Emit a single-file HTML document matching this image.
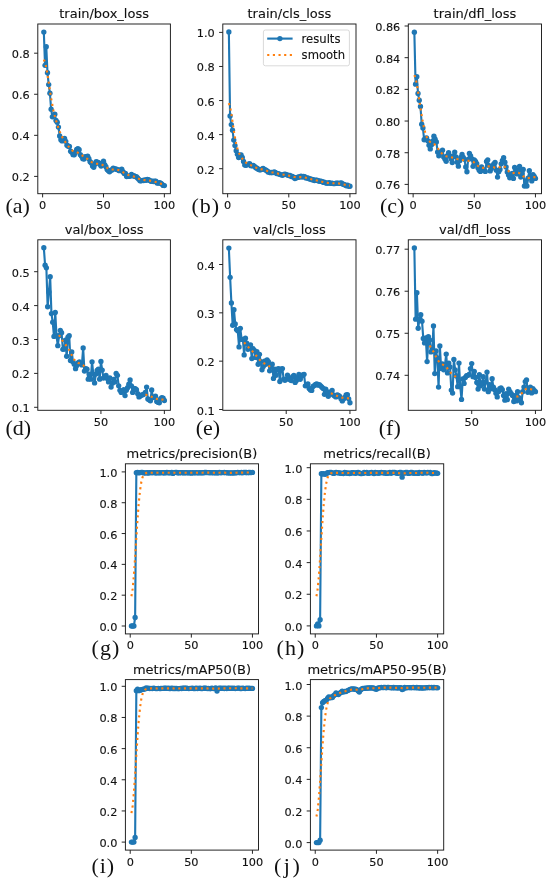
<!DOCTYPE html>
<html lang="en"><head><meta charset="utf-8"><title>Training results</title>
<style>html,body{margin:0;padding:0;background:#fff}body{width:550px;height:881px;overflow:hidden}svg{display:block}</style>
</head><body>
<svg width="550" height="881" viewBox="0 0 550 881">
<rect width="550" height="881" fill="#fff"/>
<g id="plot-a">
<clipPath id="clipa"><rect x="37.8" y="24" width="132.6" height="169.7"/></clipPath>
<g clip-path="url(#clipa)">
<polyline points="43.83,32.05 45.04,65.31 46.26,46.63 47.48,72.71 48.7,84.62 49.92,93.24 51.13,109.26 52.35,116.85 53.57,115.42 54.79,114.18 56,120.45 57.22,122.29 58.44,127.12 59.66,135.95 60.87,139.77 62.09,140.94 63.31,139.55 64.53,138.34 65.74,141.3 66.96,145.29 68.18,146.21 69.4,146.54 70.62,151.27 71.83,152.28 73.05,154.69 74.27,154.77 75.49,152.48 76.7,149.42 77.92,148.79 79.14,149.76 80.36,154.74 81.57,156.37 82.79,158.7 84.01,158.98 85.23,156.59 86.44,156.81 87.66,156.19 88.88,158.7 90.1,161.63 91.31,163 92.53,166.04 93.75,167.29 94.97,164.15 96.19,161.6 97.4,162.25 98.62,162.64 99.84,164.24 101.06,165.98 102.27,165.11 103.49,161.16 104.71,164.65 105.93,166.71 107.14,169.62 108.36,170.8 109.58,171.79 110.8,170.25 112.01,169.99 113.23,168.06 114.45,168.86 115.67,168.8 116.89,169.38 118.1,170.04 119.32,170.67 120.54,169.85 121.76,169.1 122.97,171.7 124.19,173.52 125.41,173.51 126.63,176.58 127.84,175.81 129.06,176.42 130.28,175.82 131.5,174.39 132.71,175.91 133.93,175.75 135.15,176.58 136.37,176.58 137.58,178 138.8,179.31 140.02,180.74 141.24,180.79 142.46,180.32 143.67,180.54 144.89,179.82 146.11,180.28 147.33,179.49 148.54,179.63 149.76,180.56 150.98,181.23 152.2,181.06 153.41,181.48 154.63,181.21 155.85,181.18 157.07,183.05 158.28,183.1 159.5,182.78 160.72,183.13 161.94,184.1 163.16,185.42 164.37,185.59" fill="none" stroke="#1f77b4" stroke-width="2.13" stroke-linejoin="round" stroke-linecap="square"/>
<g fill="#1f77b4"><circle cx="43.83" cy="32.05" r="2.67"/><circle cx="45.04" cy="65.31" r="2.67"/><circle cx="46.26" cy="46.63" r="2.67"/><circle cx="47.48" cy="72.71" r="2.67"/><circle cx="48.7" cy="84.62" r="2.67"/><circle cx="49.92" cy="93.24" r="2.67"/><circle cx="51.13" cy="109.26" r="2.67"/><circle cx="52.35" cy="116.85" r="2.67"/><circle cx="53.57" cy="115.42" r="2.67"/><circle cx="54.79" cy="114.18" r="2.67"/><circle cx="56" cy="120.45" r="2.67"/><circle cx="57.22" cy="122.29" r="2.67"/><circle cx="58.44" cy="127.12" r="2.67"/><circle cx="59.66" cy="135.95" r="2.67"/><circle cx="60.87" cy="139.77" r="2.67"/><circle cx="62.09" cy="140.94" r="2.67"/><circle cx="63.31" cy="139.55" r="2.67"/><circle cx="64.53" cy="138.34" r="2.67"/><circle cx="65.74" cy="141.3" r="2.67"/><circle cx="66.96" cy="145.29" r="2.67"/><circle cx="68.18" cy="146.21" r="2.67"/><circle cx="69.4" cy="146.54" r="2.67"/><circle cx="70.62" cy="151.27" r="2.67"/><circle cx="71.83" cy="152.28" r="2.67"/><circle cx="73.05" cy="154.69" r="2.67"/><circle cx="74.27" cy="154.77" r="2.67"/><circle cx="75.49" cy="152.48" r="2.67"/><circle cx="76.7" cy="149.42" r="2.67"/><circle cx="77.92" cy="148.79" r="2.67"/><circle cx="79.14" cy="149.76" r="2.67"/><circle cx="80.36" cy="154.74" r="2.67"/><circle cx="81.57" cy="156.37" r="2.67"/><circle cx="82.79" cy="158.7" r="2.67"/><circle cx="84.01" cy="158.98" r="2.67"/><circle cx="85.23" cy="156.59" r="2.67"/><circle cx="86.44" cy="156.81" r="2.67"/><circle cx="87.66" cy="156.19" r="2.67"/><circle cx="88.88" cy="158.7" r="2.67"/><circle cx="90.1" cy="161.63" r="2.67"/><circle cx="91.31" cy="163" r="2.67"/><circle cx="92.53" cy="166.04" r="2.67"/><circle cx="93.75" cy="167.29" r="2.67"/><circle cx="94.97" cy="164.15" r="2.67"/><circle cx="96.19" cy="161.6" r="2.67"/><circle cx="97.4" cy="162.25" r="2.67"/><circle cx="98.62" cy="162.64" r="2.67"/><circle cx="99.84" cy="164.24" r="2.67"/><circle cx="101.06" cy="165.98" r="2.67"/><circle cx="102.27" cy="165.11" r="2.67"/><circle cx="103.49" cy="161.16" r="2.67"/><circle cx="104.71" cy="164.65" r="2.67"/><circle cx="105.93" cy="166.71" r="2.67"/><circle cx="107.14" cy="169.62" r="2.67"/><circle cx="108.36" cy="170.8" r="2.67"/><circle cx="109.58" cy="171.79" r="2.67"/><circle cx="110.8" cy="170.25" r="2.67"/><circle cx="112.01" cy="169.99" r="2.67"/><circle cx="113.23" cy="168.06" r="2.67"/><circle cx="114.45" cy="168.86" r="2.67"/><circle cx="115.67" cy="168.8" r="2.67"/><circle cx="116.89" cy="169.38" r="2.67"/><circle cx="118.1" cy="170.04" r="2.67"/><circle cx="119.32" cy="170.67" r="2.67"/><circle cx="120.54" cy="169.85" r="2.67"/><circle cx="121.76" cy="169.1" r="2.67"/><circle cx="122.97" cy="171.7" r="2.67"/><circle cx="124.19" cy="173.52" r="2.67"/><circle cx="125.41" cy="173.51" r="2.67"/><circle cx="126.63" cy="176.58" r="2.67"/><circle cx="127.84" cy="175.81" r="2.67"/><circle cx="129.06" cy="176.42" r="2.67"/><circle cx="130.28" cy="175.82" r="2.67"/><circle cx="131.5" cy="174.39" r="2.67"/><circle cx="132.71" cy="175.91" r="2.67"/><circle cx="133.93" cy="175.75" r="2.67"/><circle cx="135.15" cy="176.58" r="2.67"/><circle cx="136.37" cy="176.58" r="2.67"/><circle cx="137.58" cy="178" r="2.67"/><circle cx="138.8" cy="179.31" r="2.67"/><circle cx="140.02" cy="180.74" r="2.67"/><circle cx="141.24" cy="180.79" r="2.67"/><circle cx="142.46" cy="180.32" r="2.67"/><circle cx="143.67" cy="180.54" r="2.67"/><circle cx="144.89" cy="179.82" r="2.67"/><circle cx="146.11" cy="180.28" r="2.67"/><circle cx="147.33" cy="179.49" r="2.67"/><circle cx="148.54" cy="179.63" r="2.67"/><circle cx="149.76" cy="180.56" r="2.67"/><circle cx="150.98" cy="181.23" r="2.67"/><circle cx="152.2" cy="181.06" r="2.67"/><circle cx="153.41" cy="181.48" r="2.67"/><circle cx="154.63" cy="181.21" r="2.67"/><circle cx="155.85" cy="181.18" r="2.67"/><circle cx="157.07" cy="183.05" r="2.67"/><circle cx="158.28" cy="183.1" r="2.67"/><circle cx="159.5" cy="182.78" r="2.67"/><circle cx="160.72" cy="183.13" r="2.67"/><circle cx="161.94" cy="184.1" r="2.67"/><circle cx="163.16" cy="185.42" r="2.67"/><circle cx="164.37" cy="185.59" r="2.67"/></g>
<polyline points="43.83,59.57 45.04,62.33 46.26,67.51 47.48,74.47 48.7,82.41 49.92,90.55 51.13,98.23 52.35,105.08 53.57,110.96 54.79,115.99 56,120.4 57.22,124.37 58.44,128.02 59.66,131.34 60.87,134.28 62.09,136.82 63.31,138.99 64.53,140.9 65.74,142.67 66.96,144.38 68.18,146.04 69.4,147.63 70.62,149.04 71.83,150.19 73.05,151.02 74.27,151.56 75.49,151.93 76.7,152.26 77.92,152.7 79.14,153.32 80.36,154.12 81.57,155.01 82.79,155.89 84.01,156.72 85.23,157.5 86.44,158.28 87.66,159.14 88.88,160.08 90.1,161.05 91.31,161.96 92.53,162.7 93.75,163.22 94.97,163.51 96.19,163.66 97.4,163.75 98.62,163.87 99.84,164.07 101.06,164.4 102.27,164.86 103.49,165.48 104.71,166.22 105.93,167.04 107.14,167.85 108.36,168.54 109.58,169.05 110.8,169.34 112.01,169.47 113.23,169.5 114.45,169.51 115.67,169.58 116.89,169.73 118.1,169.98 119.32,170.35 120.54,170.84 121.76,171.45 122.97,172.15 124.19,172.91 125.41,173.65 126.63,174.31 127.84,174.85 129.06,175.26 130.28,175.58 131.5,175.86 132.71,176.16 133.93,176.54 135.15,177.01 136.37,177.56 137.58,178.14 138.8,178.72 140.02,179.22 141.24,179.61 142.46,179.88 143.67,180.04 144.89,180.13 146.11,180.21 147.33,180.3 148.54,180.43 149.76,180.61 150.98,180.84 152.2,181.1 153.41,181.39 154.63,181.7 155.85,182.05 157.07,182.43 158.28,182.83 159.5,183.24 160.72,183.64 161.94,183.99 163.16,184.26 164.37,184.41" fill="none" stroke="#ff7f0e" stroke-width="2.13" stroke-dasharray="2.13 3.52" stroke-linejoin="round"/>
</g>
<rect x="37.8" y="24" width="132.6" height="169.7" fill="none" stroke="#1a1a1a" stroke-width="0.95"/>
<path d="M42.61 193.7v3.7M103.49 193.7v3.7M164.37 193.7v3.7M37.8 176.4h-3.7M37.8 135.33h-3.7M37.8 94.27h-3.7M37.8 53.2h-3.7" stroke="#1a1a1a" stroke-width="0.95" fill="none"/>
<g font-family="DejaVu Sans, Liberation Sans, sans-serif" font-size="11.3" fill="#111" stroke="#111" stroke-width="0.12">
<text x="42.61" y="209.1" text-anchor="middle">0</text>
<text x="103.49" y="209.1" text-anchor="middle">50</text>
<text x="164.37" y="209.1" text-anchor="middle">100</text>
<text x="29.8" y="181.4" text-anchor="end">0.2</text>
<text x="29.8" y="140.33" text-anchor="end">0.4</text>
<text x="29.8" y="99.27" text-anchor="end">0.6</text>
<text x="29.8" y="58.2" text-anchor="end">0.8</text>
</g>
<text x="104.1" y="18" text-anchor="middle" font-family="DejaVu Sans, Liberation Sans, sans-serif" font-size="13.0" fill="#111" stroke="#111" stroke-width="0.12">train/box_loss</text>
<text transform="translate(5.5 212.7) scale(1.005 1)" font-family="Liberation Serif, Times New Roman, serif" font-size="21.9" letter-spacing="0" fill="#111">(a)</text>
</g>
<g id="plot-b">
<clipPath id="clipb"><rect x="222.8" y="24" width="133.2" height="169.7"/></clipPath>
<g clip-path="url(#clipb)">
<polyline points="228.85,31.89 230.08,115.97 231.3,124.57 232.52,130.2 233.75,140.08 234.97,145.61 236.19,150.64 237.42,154.3 238.64,157.46 239.86,155.24 241.09,154.9 242.31,157.46 243.53,161.53 244.76,165.09 245.98,165.28 247.2,164.66 248.42,164.19 249.65,163.72 250.87,165.66 252.09,165.8 253.32,165.5 254.54,166.32 255.76,167.73 256.99,168.28 258.21,169.28 259.43,169.72 260.66,169.83 261.88,169.28 263.1,168.33 264.33,169.36 265.55,170.04 266.77,170.61 268,171.91 269.22,172.14 270.44,172.65 271.66,172.52 272.89,172.56 274.11,171.86 275.33,172.35 276.56,173.51 277.78,173.61 279,174 280.23,174.58 281.45,174.85 282.67,175.33 283.9,174.44 285.12,174.22 286.34,174.59 287.57,175.08 288.79,175.47 290.01,175.44 291.23,176.55 292.46,176.33 293.68,177.37 294.9,178.56 296.13,177.79 297.35,177.48 298.57,177.02 299.8,176.96 301.02,176.26 302.24,176.96 303.47,176.33 304.69,176.74 305.91,177.9 307.14,177.97 308.36,178.15 309.58,179 310.8,179.02 312.03,179.78 313.25,179.79 314.47,180.48 315.7,180.11 316.92,180.28 318.14,180.73 319.37,181.15 320.59,181.29 321.81,181.42 323.04,182.27 324.26,182.25 325.48,182.85 326.71,183.17 327.93,183.19 329.15,182.67 330.38,183.34 331.6,183.28 332.82,183.35 334.04,183.66 335.27,183.39 336.49,183.11 337.71,183.2 338.94,183.38 340.16,183.21 341.38,182.94 342.61,183.89 343.83,184.47 345.05,184.86 346.28,185.75 347.5,185.28 348.72,186.34 349.95,186.22" fill="none" stroke="#1f77b4" stroke-width="2.13" stroke-linejoin="round" stroke-linecap="square"/>
<g fill="#1f77b4"><circle cx="228.85" cy="31.89" r="2.67"/><circle cx="230.08" cy="115.97" r="2.67"/><circle cx="231.3" cy="124.57" r="2.67"/><circle cx="232.52" cy="130.2" r="2.67"/><circle cx="233.75" cy="140.08" r="2.67"/><circle cx="234.97" cy="145.61" r="2.67"/><circle cx="236.19" cy="150.64" r="2.67"/><circle cx="237.42" cy="154.3" r="2.67"/><circle cx="238.64" cy="157.46" r="2.67"/><circle cx="239.86" cy="155.24" r="2.67"/><circle cx="241.09" cy="154.9" r="2.67"/><circle cx="242.31" cy="157.46" r="2.67"/><circle cx="243.53" cy="161.53" r="2.67"/><circle cx="244.76" cy="165.09" r="2.67"/><circle cx="245.98" cy="165.28" r="2.67"/><circle cx="247.2" cy="164.66" r="2.67"/><circle cx="248.42" cy="164.19" r="2.67"/><circle cx="249.65" cy="163.72" r="2.67"/><circle cx="250.87" cy="165.66" r="2.67"/><circle cx="252.09" cy="165.8" r="2.67"/><circle cx="253.32" cy="165.5" r="2.67"/><circle cx="254.54" cy="166.32" r="2.67"/><circle cx="255.76" cy="167.73" r="2.67"/><circle cx="256.99" cy="168.28" r="2.67"/><circle cx="258.21" cy="169.28" r="2.67"/><circle cx="259.43" cy="169.72" r="2.67"/><circle cx="260.66" cy="169.83" r="2.67"/><circle cx="261.88" cy="169.28" r="2.67"/><circle cx="263.1" cy="168.33" r="2.67"/><circle cx="264.33" cy="169.36" r="2.67"/><circle cx="265.55" cy="170.04" r="2.67"/><circle cx="266.77" cy="170.61" r="2.67"/><circle cx="268" cy="171.91" r="2.67"/><circle cx="269.22" cy="172.14" r="2.67"/><circle cx="270.44" cy="172.65" r="2.67"/><circle cx="271.66" cy="172.52" r="2.67"/><circle cx="272.89" cy="172.56" r="2.67"/><circle cx="274.11" cy="171.86" r="2.67"/><circle cx="275.33" cy="172.35" r="2.67"/><circle cx="276.56" cy="173.51" r="2.67"/><circle cx="277.78" cy="173.61" r="2.67"/><circle cx="279" cy="174" r="2.67"/><circle cx="280.23" cy="174.58" r="2.67"/><circle cx="281.45" cy="174.85" r="2.67"/><circle cx="282.67" cy="175.33" r="2.67"/><circle cx="283.9" cy="174.44" r="2.67"/><circle cx="285.12" cy="174.22" r="2.67"/><circle cx="286.34" cy="174.59" r="2.67"/><circle cx="287.57" cy="175.08" r="2.67"/><circle cx="288.79" cy="175.47" r="2.67"/><circle cx="290.01" cy="175.44" r="2.67"/><circle cx="291.23" cy="176.55" r="2.67"/><circle cx="292.46" cy="176.33" r="2.67"/><circle cx="293.68" cy="177.37" r="2.67"/><circle cx="294.9" cy="178.56" r="2.67"/><circle cx="296.13" cy="177.79" r="2.67"/><circle cx="297.35" cy="177.48" r="2.67"/><circle cx="298.57" cy="177.02" r="2.67"/><circle cx="299.8" cy="176.96" r="2.67"/><circle cx="301.02" cy="176.26" r="2.67"/><circle cx="302.24" cy="176.96" r="2.67"/><circle cx="303.47" cy="176.33" r="2.67"/><circle cx="304.69" cy="176.74" r="2.67"/><circle cx="305.91" cy="177.9" r="2.67"/><circle cx="307.14" cy="177.97" r="2.67"/><circle cx="308.36" cy="178.15" r="2.67"/><circle cx="309.58" cy="179" r="2.67"/><circle cx="310.8" cy="179.02" r="2.67"/><circle cx="312.03" cy="179.78" r="2.67"/><circle cx="313.25" cy="179.79" r="2.67"/><circle cx="314.47" cy="180.48" r="2.67"/><circle cx="315.7" cy="180.11" r="2.67"/><circle cx="316.92" cy="180.28" r="2.67"/><circle cx="318.14" cy="180.73" r="2.67"/><circle cx="319.37" cy="181.15" r="2.67"/><circle cx="320.59" cy="181.29" r="2.67"/><circle cx="321.81" cy="181.42" r="2.67"/><circle cx="323.04" cy="182.27" r="2.67"/><circle cx="324.26" cy="182.25" r="2.67"/><circle cx="325.48" cy="182.85" r="2.67"/><circle cx="326.71" cy="183.17" r="2.67"/><circle cx="327.93" cy="183.19" r="2.67"/><circle cx="329.15" cy="182.67" r="2.67"/><circle cx="330.38" cy="183.34" r="2.67"/><circle cx="331.6" cy="183.28" r="2.67"/><circle cx="332.82" cy="183.35" r="2.67"/><circle cx="334.04" cy="183.66" r="2.67"/><circle cx="335.27" cy="183.39" r="2.67"/><circle cx="336.49" cy="183.11" r="2.67"/><circle cx="337.71" cy="183.2" r="2.67"/><circle cx="338.94" cy="183.38" r="2.67"/><circle cx="340.16" cy="183.21" r="2.67"/><circle cx="341.38" cy="182.94" r="2.67"/><circle cx="342.61" cy="183.89" r="2.67"/><circle cx="343.83" cy="184.47" r="2.67"/><circle cx="345.05" cy="184.86" r="2.67"/><circle cx="346.28" cy="185.75" r="2.67"/><circle cx="347.5" cy="185.28" r="2.67"/><circle cx="348.72" cy="186.34" r="2.67"/><circle cx="349.95" cy="186.22" r="2.67"/></g>
<polyline points="228.85,103.12 230.08,106.89 231.3,113.57 232.52,121.77 233.75,130.11 234.97,137.59 236.19,143.73 237.42,148.47 238.64,152.05 239.86,154.77 241.09,156.94 242.31,158.74 243.53,160.3 244.76,161.63 245.98,162.73 247.2,163.6 248.42,164.27 249.65,164.82 250.87,165.31 252.09,165.8 253.32,166.31 254.54,166.86 255.76,167.41 256.99,167.93 258.21,168.39 259.43,168.78 260.66,169.1 261.88,169.39 263.1,169.68 264.33,170.01 265.55,170.39 266.77,170.8 268,171.21 269.22,171.59 270.44,171.93 271.66,172.22 272.89,172.48 274.11,172.73 275.33,173 276.56,173.29 277.78,173.59 279,173.88 280.23,174.15 281.45,174.37 282.67,174.55 283.9,174.71 285.12,174.87 286.34,175.06 287.57,175.3 288.79,175.59 290.01,175.92 291.23,176.26 292.46,176.59 293.68,176.87 294.9,177.06 296.13,177.16 297.35,177.18 298.57,177.14 299.8,177.09 301.02,177.06 302.24,177.1 303.47,177.22 304.69,177.42 305.91,177.69 307.14,178.01 308.36,178.37 309.58,178.73 310.8,179.08 312.03,179.42 313.25,179.73 314.47,180.01 315.7,180.28 316.92,180.55 318.14,180.82 319.37,181.1 320.59,181.39 321.81,181.69 323.04,181.98 324.26,182.25 325.48,182.5 326.71,182.71 327.93,182.88 329.15,183.02 330.38,183.13 331.6,183.2 332.82,183.26 334.04,183.3 335.27,183.32 336.49,183.35 337.71,183.4 338.94,183.5 340.16,183.65 341.38,183.86 342.61,184.14 343.83,184.45 345.05,184.79 346.28,185.11 347.5,185.37 348.72,185.57 349.95,185.67" fill="none" stroke="#ff7f0e" stroke-width="2.13" stroke-dasharray="2.13 3.52" stroke-linejoin="round"/>
</g>
<rect x="222.8" y="24" width="133.2" height="169.7" fill="none" stroke="#1a1a1a" stroke-width="0.95"/>
<path d="M227.63 193.7v3.7M288.79 193.7v3.7M349.95 193.7v3.7M222.8 168.7h-3.7M222.8 134.62h-3.7M222.8 100.55h-3.7M222.8 66.47h-3.7M222.8 32.4h-3.7" stroke="#1a1a1a" stroke-width="0.95" fill="none"/>
<g font-family="DejaVu Sans, Liberation Sans, sans-serif" font-size="11.3" fill="#111" stroke="#111" stroke-width="0.12">
<text x="227.63" y="209.1" text-anchor="middle">0</text>
<text x="288.79" y="209.1" text-anchor="middle">50</text>
<text x="349.95" y="209.1" text-anchor="middle">100</text>
<text x="214.8" y="173.7" text-anchor="end">0.2</text>
<text x="214.8" y="139.62" text-anchor="end">0.4</text>
<text x="214.8" y="105.55" text-anchor="end">0.6</text>
<text x="214.8" y="71.47" text-anchor="end">0.8</text>
<text x="214.8" y="37.4" text-anchor="end">1.0</text>
</g>
<text x="289.4" y="18" text-anchor="middle" font-family="DejaVu Sans, Liberation Sans, sans-serif" font-size="13.0" fill="#111" stroke="#111" stroke-width="0.12">train/cls_loss</text>
<rect x="263.4" y="30" width="86" height="35.8" rx="2" ry="2" fill="#fff" fill-opacity="0.8" stroke="#d2d2d2" stroke-width="0.85"/>
<path d="M267.2 38.6H292.6" stroke="#1f77b4" stroke-width="2.13"/><circle cx="279.9" cy="38.6" r="2.67" fill="#1f77b4"/>
<path d="M267.2 55H292.6" stroke="#ff7f0e" stroke-width="2.13" stroke-dasharray="2.13 3.52"/>
<g font-family="DejaVu Sans, Liberation Sans, sans-serif" font-size="11.6" fill="#111" stroke="#111" stroke-width="0.12"><text x="301.6" y="42.5">results</text><text x="301.6" y="58.7">smooth</text></g>
<text transform="translate(191.4 212.7) scale(1.005 1)" font-family="Liberation Serif, Times New Roman, serif" font-size="21.9" letter-spacing="1.0" fill="#111">(b)</text>
</g>
<g id="plot-c">
<clipPath id="clipc"><rect x="408.3" y="24" width="133.2" height="169.7"/></clipPath>
<g clip-path="url(#clipc)">
<polyline points="414.35,32.18 415.58,84.13 416.8,76.69 418.02,93.48 419.25,100.29 420.47,106.47 421.69,124.21 422.92,128.01 424.14,139.73 425.36,138.46 426.59,137.83 427.81,140.84 429.03,145.28 430.26,148.92 431.48,144.8 432.7,140.84 433.92,136.25 435.15,139.26 436.37,141.95 437.59,152.09 438.82,155.73 440.04,153.51 441.26,151.45 442.49,150.19 443.71,157 444.93,159.06 446.16,161.27 447.38,155.73 448.6,152.72 449.83,155.89 451.05,158.74 452.27,162.54 453.5,155.89 454.72,152.09 455.94,157 457.16,162.22 458.39,166.18 459.61,160.64 460.83,157.47 462.06,154.46 463.28,157.47 464.5,159.37 465.73,166.98 466.95,171.73 468.17,159.37 469.4,153.51 470.62,155.89 471.84,158.9 473.07,166.34 474.29,159.85 475.51,161.43 476.73,163.65 477.96,167.77 479.18,170.14 480.4,171.41 481.63,166.98 482.85,169.35 484.07,170.46 485.3,171.41 486.52,161.43 487.74,159.85 488.97,165.55 490.19,170.94 491.41,168.56 492.64,165.55 493.86,163.81 495.08,162.54 496.3,170.14 497.53,177.11 498.75,171.73 499.97,169.51 501.2,163.81 502.42,160.48 503.64,157.63 504.87,162.22 506.09,166.98 507.31,172.04 508.54,174.9 509.76,177.75 510.98,174.9 512.21,173.31 513.43,178.38 514.65,167.45 515.88,171.73 517.1,173.95 518.32,170.14 519.54,166.34 520.77,177.11 521.99,173.31 523.21,169.51 524.44,185.98 525.66,180.92 526.88,185.98 528.11,178.06 529.33,170.78 530.55,176.48 531.78,180.92 533,174.58 534.22,176.48 535.45,178.38" fill="none" stroke="#1f77b4" stroke-width="2.13" stroke-linejoin="round" stroke-linecap="square"/>
<g fill="#1f77b4"><circle cx="414.35" cy="32.18" r="2.67"/><circle cx="415.58" cy="84.13" r="2.67"/><circle cx="416.8" cy="76.69" r="2.67"/><circle cx="418.02" cy="93.48" r="2.67"/><circle cx="419.25" cy="100.29" r="2.67"/><circle cx="420.47" cy="106.47" r="2.67"/><circle cx="421.69" cy="124.21" r="2.67"/><circle cx="422.92" cy="128.01" r="2.67"/><circle cx="424.14" cy="139.73" r="2.67"/><circle cx="425.36" cy="138.46" r="2.67"/><circle cx="426.59" cy="137.83" r="2.67"/><circle cx="427.81" cy="140.84" r="2.67"/><circle cx="429.03" cy="145.28" r="2.67"/><circle cx="430.26" cy="148.92" r="2.67"/><circle cx="431.48" cy="144.8" r="2.67"/><circle cx="432.7" cy="140.84" r="2.67"/><circle cx="433.92" cy="136.25" r="2.67"/><circle cx="435.15" cy="139.26" r="2.67"/><circle cx="436.37" cy="141.95" r="2.67"/><circle cx="437.59" cy="152.09" r="2.67"/><circle cx="438.82" cy="155.73" r="2.67"/><circle cx="440.04" cy="153.51" r="2.67"/><circle cx="441.26" cy="151.45" r="2.67"/><circle cx="442.49" cy="150.19" r="2.67"/><circle cx="443.71" cy="157" r="2.67"/><circle cx="444.93" cy="159.06" r="2.67"/><circle cx="446.16" cy="161.27" r="2.67"/><circle cx="447.38" cy="155.73" r="2.67"/><circle cx="448.6" cy="152.72" r="2.67"/><circle cx="449.83" cy="155.89" r="2.67"/><circle cx="451.05" cy="158.74" r="2.67"/><circle cx="452.27" cy="162.54" r="2.67"/><circle cx="453.5" cy="155.89" r="2.67"/><circle cx="454.72" cy="152.09" r="2.67"/><circle cx="455.94" cy="157" r="2.67"/><circle cx="457.16" cy="162.22" r="2.67"/><circle cx="458.39" cy="166.18" r="2.67"/><circle cx="459.61" cy="160.64" r="2.67"/><circle cx="460.83" cy="157.47" r="2.67"/><circle cx="462.06" cy="154.46" r="2.67"/><circle cx="463.28" cy="157.47" r="2.67"/><circle cx="464.5" cy="159.37" r="2.67"/><circle cx="465.73" cy="166.98" r="2.67"/><circle cx="466.95" cy="171.73" r="2.67"/><circle cx="468.17" cy="159.37" r="2.67"/><circle cx="469.4" cy="153.51" r="2.67"/><circle cx="470.62" cy="155.89" r="2.67"/><circle cx="471.84" cy="158.9" r="2.67"/><circle cx="473.07" cy="166.34" r="2.67"/><circle cx="474.29" cy="159.85" r="2.67"/><circle cx="475.51" cy="161.43" r="2.67"/><circle cx="476.73" cy="163.65" r="2.67"/><circle cx="477.96" cy="167.77" r="2.67"/><circle cx="479.18" cy="170.14" r="2.67"/><circle cx="480.4" cy="171.41" r="2.67"/><circle cx="481.63" cy="166.98" r="2.67"/><circle cx="482.85" cy="169.35" r="2.67"/><circle cx="484.07" cy="170.46" r="2.67"/><circle cx="485.3" cy="171.41" r="2.67"/><circle cx="486.52" cy="161.43" r="2.67"/><circle cx="487.74" cy="159.85" r="2.67"/><circle cx="488.97" cy="165.55" r="2.67"/><circle cx="490.19" cy="170.94" r="2.67"/><circle cx="491.41" cy="168.56" r="2.67"/><circle cx="492.64" cy="165.55" r="2.67"/><circle cx="493.86" cy="163.81" r="2.67"/><circle cx="495.08" cy="162.54" r="2.67"/><circle cx="496.3" cy="170.14" r="2.67"/><circle cx="497.53" cy="177.11" r="2.67"/><circle cx="498.75" cy="171.73" r="2.67"/><circle cx="499.97" cy="169.51" r="2.67"/><circle cx="501.2" cy="163.81" r="2.67"/><circle cx="502.42" cy="160.48" r="2.67"/><circle cx="503.64" cy="157.63" r="2.67"/><circle cx="504.87" cy="162.22" r="2.67"/><circle cx="506.09" cy="166.98" r="2.67"/><circle cx="507.31" cy="172.04" r="2.67"/><circle cx="508.54" cy="174.9" r="2.67"/><circle cx="509.76" cy="177.75" r="2.67"/><circle cx="510.98" cy="174.9" r="2.67"/><circle cx="512.21" cy="173.31" r="2.67"/><circle cx="513.43" cy="178.38" r="2.67"/><circle cx="514.65" cy="167.45" r="2.67"/><circle cx="515.88" cy="171.73" r="2.67"/><circle cx="517.1" cy="173.95" r="2.67"/><circle cx="518.32" cy="170.14" r="2.67"/><circle cx="519.54" cy="166.34" r="2.67"/><circle cx="520.77" cy="177.11" r="2.67"/><circle cx="521.99" cy="173.31" r="2.67"/><circle cx="523.21" cy="169.51" r="2.67"/><circle cx="524.44" cy="185.98" r="2.67"/><circle cx="525.66" cy="180.92" r="2.67"/><circle cx="526.88" cy="185.98" r="2.67"/><circle cx="528.11" cy="178.06" r="2.67"/><circle cx="529.33" cy="170.78" r="2.67"/><circle cx="530.55" cy="176.48" r="2.67"/><circle cx="531.78" cy="180.92" r="2.67"/><circle cx="533" cy="174.58" r="2.67"/><circle cx="534.22" cy="176.48" r="2.67"/><circle cx="535.45" cy="178.38" r="2.67"/></g>
<polyline points="414.35,75.19 415.58,78.23 416.8,83.81 418.02,91.16 419.25,99.41 420.47,107.75 421.69,115.6 422.92,122.57 424.14,128.43 425.36,133.11 426.59,136.67 427.81,139.21 429.03,140.9 430.26,141.94 431.48,142.6 432.7,143.15 433.92,143.87 435.15,144.91 436.37,146.32 437.59,147.96 438.82,149.67 440.04,151.29 441.26,152.72 442.49,153.93 443.71,154.91 444.93,155.67 446.16,156.22 447.38,156.6 448.6,156.87 449.83,157.08 451.05,157.3 452.27,157.56 453.5,157.87 454.72,158.25 455.94,158.66 457.16,159.03 458.39,159.33 459.61,159.56 460.83,159.76 462.06,160.01 463.28,160.33 464.5,160.65 465.73,160.88 466.95,160.94 468.17,160.85 469.4,160.75 470.62,160.79 471.84,161.09 473.07,161.71 474.29,162.61 475.51,163.7 476.73,164.86 477.96,165.97 479.18,166.91 480.4,167.56 481.63,167.88 482.85,167.87 484.07,167.6 485.3,167.19 486.52,166.79 487.74,166.5 488.97,166.37 490.19,166.42 491.41,166.61 492.64,166.91 493.86,167.29 495.08,167.66 496.3,167.91 497.53,167.9 498.75,167.57 499.97,167.01 501.2,166.42 502.42,166.08 503.64,166.23 504.87,166.96 506.09,168.18 507.31,169.65 508.54,171.07 509.76,172.2 510.98,172.89 512.21,173.16 513.43,173.08 514.65,172.83 515.88,172.58 517.1,172.49 518.32,172.68 519.54,173.19 520.77,174.02 521.99,175.07 523.21,176.18 524.44,177.15 525.66,177.83 526.88,178.14 528.11,178.12 529.33,177.89 530.55,177.61 531.78,177.37 533,177.22 534.22,177.15 535.45,177.12" fill="none" stroke="#ff7f0e" stroke-width="2.13" stroke-dasharray="2.13 3.52" stroke-linejoin="round"/>
</g>
<rect x="408.3" y="24" width="133.2" height="169.7" fill="none" stroke="#1a1a1a" stroke-width="0.95"/>
<path d="M413.13 193.7v3.7M474.29 193.7v3.7M535.45 193.7v3.7M408.3 184.4h-3.7M408.3 152.72h-3.7M408.3 121.04h-3.7M408.3 89.36h-3.7M408.3 57.68h-3.7M408.3 26h-3.7" stroke="#1a1a1a" stroke-width="0.95" fill="none"/>
<g font-family="DejaVu Sans, Liberation Sans, sans-serif" font-size="11.3" fill="#111" stroke="#111" stroke-width="0.12">
<text x="413.13" y="209.1" text-anchor="middle">0</text>
<text x="474.29" y="209.1" text-anchor="middle">50</text>
<text x="535.45" y="209.1" text-anchor="middle">100</text>
<text x="400.3" y="189.4" text-anchor="end">0.76</text>
<text x="400.3" y="157.72" text-anchor="end">0.78</text>
<text x="400.3" y="126.04" text-anchor="end">0.80</text>
<text x="400.3" y="94.36" text-anchor="end">0.82</text>
<text x="400.3" y="62.68" text-anchor="end">0.84</text>
<text x="400.3" y="31" text-anchor="end">0.86</text>
</g>
<text x="474.9" y="18" text-anchor="middle" font-family="DejaVu Sans, Liberation Sans, sans-serif" font-size="13.0" fill="#111" stroke="#111" stroke-width="0.12">train/dfl_loss</text>
<text transform="translate(379.9 212.7) scale(1.005 1)" font-family="Liberation Serif, Times New Roman, serif" font-size="21.9" letter-spacing="0" fill="#111">(c)</text>
</g>
<g id="plot-d">
<clipPath id="clipd"><rect x="37.8" y="239.8" width="132.6" height="170.5"/></clipPath>
<g clip-path="url(#clipd)">
<polyline points="43.83,247.7 45.1,265.26 46.37,267.8 47.63,306.72 48.9,292.04 50.17,276.78 51.44,313.6 52.71,322.21 53.98,336.45 55.25,312.38 56.52,335.77 57.79,345.7 59.05,335.77 60.32,330.35 61.59,332.72 62.86,349.33 64.13,348.99 65.4,340.18 66.67,356.21 67.94,337.13 69.21,335.77 70.47,360.52 71.74,351.91 73.01,361.87 74.28,364.25 75.55,368.65 76.82,365.5 78.09,362.99 79.36,361.87 80.63,363.57 81.89,364.93 83.16,347.98 84.43,371.09 85.7,368.65 86.97,369.2 88.24,379.16 89.51,374.18 90.78,379.16 92.05,361.87 93.31,374.08 94.58,382.89 95.85,374.08 97.12,370.48 98.39,369.2 99.66,379.16 100.93,361.4 102.2,370.11 103.47,378.01 104.73,376.79 106,375.3 107.27,378.59 108.54,381.88 109.81,378.01 111.08,387.1 112.35,383.23 113.62,379.3 114.89,381.88 116.15,373.4 117.42,375.3 118.69,385.81 119.96,390.35 121.23,392.38 122.5,391.03 123.77,389.67 125.04,395.6 126.31,390.35 127.57,387.64 128.84,384.25 130.11,379.91 131.38,385.81 132.65,392.38 133.92,388.42 135.19,388.65 136.46,389.67 137.73,393.74 138.99,396.89 140.26,396.11 141.53,395.1 142.8,394.76 144.07,394.08 145.34,392.38 146.61,387.1 147.88,398.89 149.15,399.84 150.41,400.86 151.68,390.01 152.95,397.6 154.22,397.13 155.49,396.25 156.76,401.54 158.03,402.22 159.3,402.79 160.57,398.82 161.83,397.6 163.1,398.25 164.37,400.52" fill="none" stroke="#1f77b4" stroke-width="2.13" stroke-linejoin="round" stroke-linecap="square"/>
<g fill="#1f77b4"><circle cx="43.83" cy="247.7" r="2.67"/><circle cx="45.1" cy="265.26" r="2.67"/><circle cx="46.37" cy="267.8" r="2.67"/><circle cx="47.63" cy="306.72" r="2.67"/><circle cx="48.9" cy="292.04" r="2.67"/><circle cx="50.17" cy="276.78" r="2.67"/><circle cx="51.44" cy="313.6" r="2.67"/><circle cx="52.71" cy="322.21" r="2.67"/><circle cx="53.98" cy="336.45" r="2.67"/><circle cx="55.25" cy="312.38" r="2.67"/><circle cx="56.52" cy="335.77" r="2.67"/><circle cx="57.79" cy="345.7" r="2.67"/><circle cx="59.05" cy="335.77" r="2.67"/><circle cx="60.32" cy="330.35" r="2.67"/><circle cx="61.59" cy="332.72" r="2.67"/><circle cx="62.86" cy="349.33" r="2.67"/><circle cx="64.13" cy="348.99" r="2.67"/><circle cx="65.4" cy="340.18" r="2.67"/><circle cx="66.67" cy="356.21" r="2.67"/><circle cx="67.94" cy="337.13" r="2.67"/><circle cx="69.21" cy="335.77" r="2.67"/><circle cx="70.47" cy="360.52" r="2.67"/><circle cx="71.74" cy="351.91" r="2.67"/><circle cx="73.01" cy="361.87" r="2.67"/><circle cx="74.28" cy="364.25" r="2.67"/><circle cx="75.55" cy="368.65" r="2.67"/><circle cx="76.82" cy="365.5" r="2.67"/><circle cx="78.09" cy="362.99" r="2.67"/><circle cx="79.36" cy="361.87" r="2.67"/><circle cx="80.63" cy="363.57" r="2.67"/><circle cx="81.89" cy="364.93" r="2.67"/><circle cx="83.16" cy="347.98" r="2.67"/><circle cx="84.43" cy="371.09" r="2.67"/><circle cx="85.7" cy="368.65" r="2.67"/><circle cx="86.97" cy="369.2" r="2.67"/><circle cx="88.24" cy="379.16" r="2.67"/><circle cx="89.51" cy="374.18" r="2.67"/><circle cx="90.78" cy="379.16" r="2.67"/><circle cx="92.05" cy="361.87" r="2.67"/><circle cx="93.31" cy="374.08" r="2.67"/><circle cx="94.58" cy="382.89" r="2.67"/><circle cx="95.85" cy="374.08" r="2.67"/><circle cx="97.12" cy="370.48" r="2.67"/><circle cx="98.39" cy="369.2" r="2.67"/><circle cx="99.66" cy="379.16" r="2.67"/><circle cx="100.93" cy="361.4" r="2.67"/><circle cx="102.2" cy="370.11" r="2.67"/><circle cx="103.47" cy="378.01" r="2.67"/><circle cx="104.73" cy="376.79" r="2.67"/><circle cx="106" cy="375.3" r="2.67"/><circle cx="107.27" cy="378.59" r="2.67"/><circle cx="108.54" cy="381.88" r="2.67"/><circle cx="109.81" cy="378.01" r="2.67"/><circle cx="111.08" cy="387.1" r="2.67"/><circle cx="112.35" cy="383.23" r="2.67"/><circle cx="113.62" cy="379.3" r="2.67"/><circle cx="114.89" cy="381.88" r="2.67"/><circle cx="116.15" cy="373.4" r="2.67"/><circle cx="117.42" cy="375.3" r="2.67"/><circle cx="118.69" cy="385.81" r="2.67"/><circle cx="119.96" cy="390.35" r="2.67"/><circle cx="121.23" cy="392.38" r="2.67"/><circle cx="122.5" cy="391.03" r="2.67"/><circle cx="123.77" cy="389.67" r="2.67"/><circle cx="125.04" cy="395.6" r="2.67"/><circle cx="126.31" cy="390.35" r="2.67"/><circle cx="127.57" cy="387.64" r="2.67"/><circle cx="128.84" cy="384.25" r="2.67"/><circle cx="130.11" cy="379.91" r="2.67"/><circle cx="131.38" cy="385.81" r="2.67"/><circle cx="132.65" cy="392.38" r="2.67"/><circle cx="133.92" cy="388.42" r="2.67"/><circle cx="135.19" cy="388.65" r="2.67"/><circle cx="136.46" cy="389.67" r="2.67"/><circle cx="137.73" cy="393.74" r="2.67"/><circle cx="138.99" cy="396.89" r="2.67"/><circle cx="140.26" cy="396.11" r="2.67"/><circle cx="141.53" cy="395.1" r="2.67"/><circle cx="142.8" cy="394.76" r="2.67"/><circle cx="144.07" cy="394.08" r="2.67"/><circle cx="145.34" cy="392.38" r="2.67"/><circle cx="146.61" cy="387.1" r="2.67"/><circle cx="147.88" cy="398.89" r="2.67"/><circle cx="149.15" cy="399.84" r="2.67"/><circle cx="150.41" cy="400.86" r="2.67"/><circle cx="151.68" cy="390.01" r="2.67"/><circle cx="152.95" cy="397.6" r="2.67"/><circle cx="154.22" cy="397.13" r="2.67"/><circle cx="155.49" cy="396.25" r="2.67"/><circle cx="156.76" cy="401.54" r="2.67"/><circle cx="158.03" cy="402.22" r="2.67"/><circle cx="159.3" cy="402.79" r="2.67"/><circle cx="160.57" cy="398.82" r="2.67"/><circle cx="161.83" cy="397.6" r="2.67"/><circle cx="163.1" cy="398.25" r="2.67"/><circle cx="164.37" cy="400.52" r="2.67"/></g>
<polyline points="59.05,334.93 60.32,337.3 61.59,339.37 62.86,341.22 64.13,342.91 65.4,344.51 66.67,346.13 67.94,347.95 69.21,350.07 70.47,352.51 71.74,355.1 73.01,357.61 74.28,359.76 75.55,361.37 76.82,362.39 78.09,362.95 79.36,363.25 80.63,363.57 81.89,364.15 83.16,365.12 84.43,366.46 85.7,368.04" fill="none" stroke="#ff7f0e" stroke-width="2.13" stroke-dasharray="2.13 3.52" stroke-linejoin="round"/>
<polyline points="145.34,394.59 146.61,394.91 147.88,395.34 149.15,395.83 150.41,396.32 151.68,396.81 152.95,397.33 154.22,397.87 155.49,398.43 156.76,398.93 158.03,399.32 159.3,399.54 160.57,399.61 161.83,399.57 163.1,399.5 164.37,399.45" fill="none" stroke="#ff7f0e" stroke-width="2.13" stroke-dasharray="2.13 3.52" stroke-linejoin="round"/>
</g>
<rect x="37.8" y="239.8" width="132.6" height="170.5" fill="none" stroke="#1a1a1a" stroke-width="0.95"/>
<path d="M100.93 410.3v3.7M164.37 410.3v3.7M37.8 407.3h-3.7M37.8 373.4h-3.7M37.8 339.5h-3.7M37.8 305.6h-3.7M37.8 271.7h-3.7" stroke="#1a1a1a" stroke-width="0.95" fill="none"/>
<g font-family="DejaVu Sans, Liberation Sans, sans-serif" font-size="11.3" fill="#111" stroke="#111" stroke-width="0.12">
<text x="100.93" y="425.7" text-anchor="middle">50</text>
<text x="164.37" y="425.7" text-anchor="middle">100</text>
<text x="29.8" y="412.3" text-anchor="end">0.1</text>
<text x="29.8" y="378.4" text-anchor="end">0.2</text>
<text x="29.8" y="344.5" text-anchor="end">0.3</text>
<text x="29.8" y="310.6" text-anchor="end">0.4</text>
<text x="29.8" y="276.7" text-anchor="end">0.5</text>
</g>
<text x="104.1" y="233.8" text-anchor="middle" font-family="DejaVu Sans, Liberation Sans, sans-serif" font-size="13.0" fill="#111" stroke="#111" stroke-width="0.12">val/box_loss</text>
<text transform="translate(5.5 435.3) scale(1.005 1)" font-family="Liberation Serif, Times New Roman, serif" font-size="21.9" letter-spacing="0" fill="#111">(d)</text>
</g>
<g id="plot-e">
<clipPath id="clipe"><rect x="222.8" y="239.8" width="133.2" height="170.5"/></clipPath>
<g clip-path="url(#clipe)">
<polyline points="228.85,248.07 230.13,277.31 231.4,302.97 232.68,325.21 233.95,309.79 235.23,323.95 236.5,329.61 237.78,330.81 239.05,346.91 240.33,328.3 241.6,339.42 242.88,339.42 244.15,354.88 245.42,338.21 246.7,343.19 247.97,349.28 249.25,346.91 250.52,344.98 251.8,358.61 253.07,348.7 254.35,350.53 255.62,357.4 256.9,351.69 258.17,364.21 259.45,354.3 260.72,361.65 262,369.72 263.27,366.58 264.54,361.17 265.82,364.21 267.09,359.81 268.37,361.65 269.64,370.83 270.92,366.58 272.19,364.21 273.47,378.42 274.74,369.09 276.02,375.28 277.29,369.09 278.57,368.61 279.84,381.47 281.11,369.09 282.39,368.61 283.66,379.05 284.94,380.26 286.21,379.29 287.49,375.09 288.76,378.08 290.04,379.77 291.31,380.5 292.59,376.63 293.86,375.43 295.14,382.43 296.41,380.5 297.69,377.36 298.96,374.31 300.23,379.29 301.51,376.15 302.78,374.94 304.06,374.31 305.33,385.82 306.61,384.85 307.88,383.88 309.16,388.48 310.43,389.92 311.71,390.41 312.98,386.49 314.26,385.57 315.53,384.37 316.8,383.88 318.08,385.19 319.35,384.56 320.63,385.82 321.9,387.27 323.18,388.38 324.45,394.32 325.73,389.1 327,391.71 328.28,396.31 329.55,393.55 330.83,391.86 332.1,390.41 333.38,395 334.65,395.97 335.92,396.93 337.2,395 338.47,395.48 339.75,396.31 341.02,398.87 342.3,400.9 343.57,399.11 344.85,397.42 346.12,395 347.4,394.76 348.67,398.87 349.95,402.78" fill="none" stroke="#1f77b4" stroke-width="2.13" stroke-linejoin="round" stroke-linecap="square"/>
<g fill="#1f77b4"><circle cx="228.85" cy="248.07" r="2.67"/><circle cx="230.13" cy="277.31" r="2.67"/><circle cx="231.4" cy="302.97" r="2.67"/><circle cx="232.68" cy="325.21" r="2.67"/><circle cx="233.95" cy="309.79" r="2.67"/><circle cx="235.23" cy="323.95" r="2.67"/><circle cx="236.5" cy="329.61" r="2.67"/><circle cx="237.78" cy="330.81" r="2.67"/><circle cx="239.05" cy="346.91" r="2.67"/><circle cx="240.33" cy="328.3" r="2.67"/><circle cx="241.6" cy="339.42" r="2.67"/><circle cx="242.88" cy="339.42" r="2.67"/><circle cx="244.15" cy="354.88" r="2.67"/><circle cx="245.42" cy="338.21" r="2.67"/><circle cx="246.7" cy="343.19" r="2.67"/><circle cx="247.97" cy="349.28" r="2.67"/><circle cx="249.25" cy="346.91" r="2.67"/><circle cx="250.52" cy="344.98" r="2.67"/><circle cx="251.8" cy="358.61" r="2.67"/><circle cx="253.07" cy="348.7" r="2.67"/><circle cx="254.35" cy="350.53" r="2.67"/><circle cx="255.62" cy="357.4" r="2.67"/><circle cx="256.9" cy="351.69" r="2.67"/><circle cx="258.17" cy="364.21" r="2.67"/><circle cx="259.45" cy="354.3" r="2.67"/><circle cx="260.72" cy="361.65" r="2.67"/><circle cx="262" cy="369.72" r="2.67"/><circle cx="263.27" cy="366.58" r="2.67"/><circle cx="264.54" cy="361.17" r="2.67"/><circle cx="265.82" cy="364.21" r="2.67"/><circle cx="267.09" cy="359.81" r="2.67"/><circle cx="268.37" cy="361.65" r="2.67"/><circle cx="269.64" cy="370.83" r="2.67"/><circle cx="270.92" cy="366.58" r="2.67"/><circle cx="272.19" cy="364.21" r="2.67"/><circle cx="273.47" cy="378.42" r="2.67"/><circle cx="274.74" cy="369.09" r="2.67"/><circle cx="276.02" cy="375.28" r="2.67"/><circle cx="277.29" cy="369.09" r="2.67"/><circle cx="278.57" cy="368.61" r="2.67"/><circle cx="279.84" cy="381.47" r="2.67"/><circle cx="281.11" cy="369.09" r="2.67"/><circle cx="282.39" cy="368.61" r="2.67"/><circle cx="283.66" cy="379.05" r="2.67"/><circle cx="284.94" cy="380.26" r="2.67"/><circle cx="286.21" cy="379.29" r="2.67"/><circle cx="287.49" cy="375.09" r="2.67"/><circle cx="288.76" cy="378.08" r="2.67"/><circle cx="290.04" cy="379.77" r="2.67"/><circle cx="291.31" cy="380.5" r="2.67"/><circle cx="292.59" cy="376.63" r="2.67"/><circle cx="293.86" cy="375.43" r="2.67"/><circle cx="295.14" cy="382.43" r="2.67"/><circle cx="296.41" cy="380.5" r="2.67"/><circle cx="297.69" cy="377.36" r="2.67"/><circle cx="298.96" cy="374.31" r="2.67"/><circle cx="300.23" cy="379.29" r="2.67"/><circle cx="301.51" cy="376.15" r="2.67"/><circle cx="302.78" cy="374.94" r="2.67"/><circle cx="304.06" cy="374.31" r="2.67"/><circle cx="305.33" cy="385.82" r="2.67"/><circle cx="306.61" cy="384.85" r="2.67"/><circle cx="307.88" cy="383.88" r="2.67"/><circle cx="309.16" cy="388.48" r="2.67"/><circle cx="310.43" cy="389.92" r="2.67"/><circle cx="311.71" cy="390.41" r="2.67"/><circle cx="312.98" cy="386.49" r="2.67"/><circle cx="314.26" cy="385.57" r="2.67"/><circle cx="315.53" cy="384.37" r="2.67"/><circle cx="316.8" cy="383.88" r="2.67"/><circle cx="318.08" cy="385.19" r="2.67"/><circle cx="319.35" cy="384.56" r="2.67"/><circle cx="320.63" cy="385.82" r="2.67"/><circle cx="321.9" cy="387.27" r="2.67"/><circle cx="323.18" cy="388.38" r="2.67"/><circle cx="324.45" cy="394.32" r="2.67"/><circle cx="325.73" cy="389.1" r="2.67"/><circle cx="327" cy="391.71" r="2.67"/><circle cx="328.28" cy="396.31" r="2.67"/><circle cx="329.55" cy="393.55" r="2.67"/><circle cx="330.83" cy="391.86" r="2.67"/><circle cx="332.1" cy="390.41" r="2.67"/><circle cx="333.38" cy="395" r="2.67"/><circle cx="334.65" cy="395.97" r="2.67"/><circle cx="335.92" cy="396.93" r="2.67"/><circle cx="337.2" cy="395" r="2.67"/><circle cx="338.47" cy="395.48" r="2.67"/><circle cx="339.75" cy="396.31" r="2.67"/><circle cx="341.02" cy="398.87" r="2.67"/><circle cx="342.3" cy="400.9" r="2.67"/><circle cx="343.57" cy="399.11" r="2.67"/><circle cx="344.85" cy="397.42" r="2.67"/><circle cx="346.12" cy="395" r="2.67"/><circle cx="347.4" cy="394.76" r="2.67"/><circle cx="348.67" cy="398.87" r="2.67"/><circle cx="349.95" cy="402.78" r="2.67"/></g>
<polyline points="244.15,342.37 245.42,343.92 246.7,345.32 247.97,346.65 249.25,347.96 250.52,349.27 251.8,350.62 253.07,352 254.35,353.44 255.62,354.95 256.9,356.51 258.17,358.09 259.45,359.6 260.72,360.93 262,362.03 263.27,362.86 264.54,363.51 265.82,364.08 267.09,364.73 268.37,365.54 269.64,366.53 270.92,367.64" fill="none" stroke="#ff7f0e" stroke-width="2.13" stroke-dasharray="2.13 3.52" stroke-linejoin="round"/>
<polyline points="330.83,393.34 332.1,393.81 333.38,394.32 334.65,394.86 335.92,395.42 337.2,395.98 338.47,396.51 339.75,396.98 341.02,397.35 342.3,397.62 343.57,397.8 344.85,397.93 346.12,398.07 347.4,398.23 348.67,398.4 349.95,398.5" fill="none" stroke="#ff7f0e" stroke-width="2.13" stroke-dasharray="2.13 3.52" stroke-linejoin="round"/>
</g>
<rect x="222.8" y="239.8" width="133.2" height="170.5" fill="none" stroke="#1a1a1a" stroke-width="0.95"/>
<path d="M286.21 410.3v3.7M349.95 410.3v3.7M222.8 409.5h-3.7M222.8 361.17h-3.7M222.8 312.83h-3.7M222.8 264.5h-3.7" stroke="#1a1a1a" stroke-width="0.95" fill="none"/>
<g font-family="DejaVu Sans, Liberation Sans, sans-serif" font-size="11.3" fill="#111" stroke="#111" stroke-width="0.12">
<text x="286.21" y="425.7" text-anchor="middle">50</text>
<text x="349.95" y="425.7" text-anchor="middle">100</text>
<text x="214.8" y="414.5" text-anchor="end">0.1</text>
<text x="214.8" y="366.17" text-anchor="end">0.2</text>
<text x="214.8" y="317.83" text-anchor="end">0.3</text>
<text x="214.8" y="269.5" text-anchor="end">0.4</text>
</g>
<text x="289.4" y="233.8" text-anchor="middle" font-family="DejaVu Sans, Liberation Sans, sans-serif" font-size="13.0" fill="#111" stroke="#111" stroke-width="0.12">val/cls_loss</text>
<text transform="translate(195.7 435.3) scale(1.005 1)" font-family="Liberation Serif, Times New Roman, serif" font-size="21.9" letter-spacing="0" fill="#111">(e)</text>
</g>
<g id="plot-f">
<clipPath id="clipf"><rect x="408.3" y="239.8" width="133.2" height="170.5"/></clipPath>
<g clip-path="url(#clipf)">
<polyline points="414.35,247.94 415.63,319.19 416.9,292.7 418.18,328.22 419.45,319.4 420.73,314.77 422,321.2 423.28,338.39 424.55,342.93 425.83,337.89 427.1,361.6 428.38,336.63 429.65,339.99 430.92,351.89 432.2,350.92 433.47,325.99 434.75,373.62 436.02,350.92 437.3,357.9 438.57,387.07 439.85,345.88 441.12,368.41 442.4,363.95 443.67,369.84 444.95,365.21 446.22,354.12 447.5,372.9 448.77,363.11 450.04,366.89 451.32,390.1 452.59,393.12 453.87,359.41 455.14,369.84 456.42,375.89 457.69,386.65 458.97,363.11 460.24,386.65 461.52,399.39 462.79,378.91 464.07,383.41 465.34,377.4 466.61,375.72 467.89,375.3 469.16,374.46 470.44,368.57 471.71,363.61 472.99,376.65 474.26,371.39 475.54,377.4 476.81,382.49 478.09,389.09 479.36,374.71 480.64,385.81 481.91,382.87 483.19,376.65 484.46,389.09 485.73,381.9 487.01,372.11 488.28,391.69 489.56,384.55 490.83,388.75 492.11,378.66 493.38,387.07 494.66,389.72 495.93,393.37 497.21,396.91 498.48,391.69 499.76,388.75 501.03,387.91 502.3,389.72 503.58,395.6 504.85,400.18 506.13,393.79 507.4,399.68 508.68,389.09 509.95,391.69 511.23,393.79 512.5,395.48 513.78,401.49 515.05,395.6 516.33,400.94 517.6,391.69 518.88,397.58 520.15,400.52 521.42,402.79 522.7,391.69 523.97,387.07 525.25,381.6 526.52,379.92 527.8,392.28 529.07,388.75 530.35,387.07 531.62,392.95 532.9,388.75 534.17,390.43 535.45,391.69" fill="none" stroke="#1f77b4" stroke-width="2.13" stroke-linejoin="round" stroke-linecap="square"/>
<g fill="#1f77b4"><circle cx="414.35" cy="247.94" r="2.67"/><circle cx="415.63" cy="319.19" r="2.67"/><circle cx="416.9" cy="292.7" r="2.67"/><circle cx="418.18" cy="328.22" r="2.67"/><circle cx="419.45" cy="319.4" r="2.67"/><circle cx="420.73" cy="314.77" r="2.67"/><circle cx="422" cy="321.2" r="2.67"/><circle cx="423.28" cy="338.39" r="2.67"/><circle cx="424.55" cy="342.93" r="2.67"/><circle cx="425.83" cy="337.89" r="2.67"/><circle cx="427.1" cy="361.6" r="2.67"/><circle cx="428.38" cy="336.63" r="2.67"/><circle cx="429.65" cy="339.99" r="2.67"/><circle cx="430.92" cy="351.89" r="2.67"/><circle cx="432.2" cy="350.92" r="2.67"/><circle cx="433.47" cy="325.99" r="2.67"/><circle cx="434.75" cy="373.62" r="2.67"/><circle cx="436.02" cy="350.92" r="2.67"/><circle cx="437.3" cy="357.9" r="2.67"/><circle cx="438.57" cy="387.07" r="2.67"/><circle cx="439.85" cy="345.88" r="2.67"/><circle cx="441.12" cy="368.41" r="2.67"/><circle cx="442.4" cy="363.95" r="2.67"/><circle cx="443.67" cy="369.84" r="2.67"/><circle cx="444.95" cy="365.21" r="2.67"/><circle cx="446.22" cy="354.12" r="2.67"/><circle cx="447.5" cy="372.9" r="2.67"/><circle cx="448.77" cy="363.11" r="2.67"/><circle cx="450.04" cy="366.89" r="2.67"/><circle cx="451.32" cy="390.1" r="2.67"/><circle cx="452.59" cy="393.12" r="2.67"/><circle cx="453.87" cy="359.41" r="2.67"/><circle cx="455.14" cy="369.84" r="2.67"/><circle cx="456.42" cy="375.89" r="2.67"/><circle cx="457.69" cy="386.65" r="2.67"/><circle cx="458.97" cy="363.11" r="2.67"/><circle cx="460.24" cy="386.65" r="2.67"/><circle cx="461.52" cy="399.39" r="2.67"/><circle cx="462.79" cy="378.91" r="2.67"/><circle cx="464.07" cy="383.41" r="2.67"/><circle cx="465.34" cy="377.4" r="2.67"/><circle cx="466.61" cy="375.72" r="2.67"/><circle cx="467.89" cy="375.3" r="2.67"/><circle cx="469.16" cy="374.46" r="2.67"/><circle cx="470.44" cy="368.57" r="2.67"/><circle cx="471.71" cy="363.61" r="2.67"/><circle cx="472.99" cy="376.65" r="2.67"/><circle cx="474.26" cy="371.39" r="2.67"/><circle cx="475.54" cy="377.4" r="2.67"/><circle cx="476.81" cy="382.49" r="2.67"/><circle cx="478.09" cy="389.09" r="2.67"/><circle cx="479.36" cy="374.71" r="2.67"/><circle cx="480.64" cy="385.81" r="2.67"/><circle cx="481.91" cy="382.87" r="2.67"/><circle cx="483.19" cy="376.65" r="2.67"/><circle cx="484.46" cy="389.09" r="2.67"/><circle cx="485.73" cy="381.9" r="2.67"/><circle cx="487.01" cy="372.11" r="2.67"/><circle cx="488.28" cy="391.69" r="2.67"/><circle cx="489.56" cy="384.55" r="2.67"/><circle cx="490.83" cy="388.75" r="2.67"/><circle cx="492.11" cy="378.66" r="2.67"/><circle cx="493.38" cy="387.07" r="2.67"/><circle cx="494.66" cy="389.72" r="2.67"/><circle cx="495.93" cy="393.37" r="2.67"/><circle cx="497.21" cy="396.91" r="2.67"/><circle cx="498.48" cy="391.69" r="2.67"/><circle cx="499.76" cy="388.75" r="2.67"/><circle cx="501.03" cy="387.91" r="2.67"/><circle cx="502.3" cy="389.72" r="2.67"/><circle cx="503.58" cy="395.6" r="2.67"/><circle cx="504.85" cy="400.18" r="2.67"/><circle cx="506.13" cy="393.79" r="2.67"/><circle cx="507.4" cy="399.68" r="2.67"/><circle cx="508.68" cy="389.09" r="2.67"/><circle cx="509.95" cy="391.69" r="2.67"/><circle cx="511.23" cy="393.79" r="2.67"/><circle cx="512.5" cy="395.48" r="2.67"/><circle cx="513.78" cy="401.49" r="2.67"/><circle cx="515.05" cy="395.6" r="2.67"/><circle cx="516.33" cy="400.94" r="2.67"/><circle cx="517.6" cy="391.69" r="2.67"/><circle cx="518.88" cy="397.58" r="2.67"/><circle cx="520.15" cy="400.52" r="2.67"/><circle cx="521.42" cy="402.79" r="2.67"/><circle cx="522.7" cy="391.69" r="2.67"/><circle cx="523.97" cy="387.07" r="2.67"/><circle cx="525.25" cy="381.6" r="2.67"/><circle cx="526.52" cy="379.92" r="2.67"/><circle cx="527.8" cy="392.28" r="2.67"/><circle cx="529.07" cy="388.75" r="2.67"/><circle cx="530.35" cy="387.07" r="2.67"/><circle cx="531.62" cy="392.95" r="2.67"/><circle cx="532.9" cy="388.75" r="2.67"/><circle cx="534.17" cy="390.43" r="2.67"/><circle cx="535.45" cy="391.69" r="2.67"/></g>
<polyline points="429.65,345.67 430.92,347.46 432.2,349.45 433.47,351.73 434.75,354.25 436.02,356.8 437.3,359.14 438.57,361.08 439.85,362.55 441.12,363.6 442.4,364.38 443.67,365.1 444.95,365.96 446.22,367.1 447.5,368.57 448.77,370.25 450.04,371.96 451.32,373.46 452.59,374.65 453.87,375.57 455.14,376.38 456.42,377.27" fill="none" stroke="#ff7f0e" stroke-width="2.13" stroke-dasharray="2.13 3.52" stroke-linejoin="round"/>
<polyline points="516.33,396.65 517.6,396.49 518.88,395.96 520.15,395.03 521.42,393.73 522.7,392.23 523.97,390.74 525.25,389.52 526.52,388.75 527.8,388.47 529.07,388.58 530.35,388.95 531.62,389.4 532.9,389.81 534.17,390.11 535.45,390.27" fill="none" stroke="#ff7f0e" stroke-width="2.13" stroke-dasharray="2.13 3.52" stroke-linejoin="round"/>
</g>
<rect x="408.3" y="239.8" width="133.2" height="170.5" fill="none" stroke="#1a1a1a" stroke-width="0.95"/>
<path d="M471.71 410.3v3.7M535.45 410.3v3.7M408.3 375.3h-3.7M408.3 333.27h-3.7M408.3 291.23h-3.7M408.3 249.2h-3.7" stroke="#1a1a1a" stroke-width="0.95" fill="none"/>
<g font-family="DejaVu Sans, Liberation Sans, sans-serif" font-size="11.3" fill="#111" stroke="#111" stroke-width="0.12">
<text x="471.71" y="425.7" text-anchor="middle">50</text>
<text x="535.45" y="425.7" text-anchor="middle">100</text>
<text x="400.3" y="380.3" text-anchor="end">0.74</text>
<text x="400.3" y="338.27" text-anchor="end">0.75</text>
<text x="400.3" y="296.23" text-anchor="end">0.76</text>
<text x="400.3" y="254.2" text-anchor="end">0.77</text>
</g>
<text x="474.9" y="233.8" text-anchor="middle" font-family="DejaVu Sans, Liberation Sans, sans-serif" font-size="13.0" fill="#111" stroke="#111" stroke-width="0.12">val/dfl_loss</text>
<text transform="translate(378.8 435.3) scale(1.005 1)" font-family="Liberation Serif, Times New Roman, serif" font-size="21.9" letter-spacing="0" fill="#111">(f)</text>
</g>
<g id="plot-g">
<clipPath id="clipg"><rect x="125.4" y="463.8" width="133.1" height="170.1"/></clipPath>
<g clip-path="url(#clipg)">
<polyline points="131.45,626 132.67,626 133.89,626 135.12,617.52 136.34,472.64 137.56,472.54 138.78,472.8 140.01,472.66 141.23,472.43 142.45,472.43 143.67,472.9 144.89,472.85 146.12,472.95 147.34,472.71 148.56,472.96 149.78,472.7 151.01,472.58 152.23,472.81 153.45,472.56 154.67,472.61 155.89,472.96 157.12,472.63 158.34,472.82 159.56,472.72 160.78,472.8 162.01,472.55 163.23,472.71 164.45,472.88 165.67,472.64 166.89,472.5 168.12,472.79 169.34,472.84 170.56,472.74 171.78,472.4 173.01,473.44 174.23,472.56 175.45,472.42 176.67,472.46 177.89,472.75 179.12,472.92 180.34,472.58 181.56,472.63 182.78,472.76 184.01,472.84 185.23,472.73 186.45,472.69 187.67,472.81 188.89,472.8 190.12,472.7 191.34,473.13 192.56,472.62 193.78,472.8 195.01,472.81 196.23,472.7 197.45,472.85 198.67,472.85 199.89,472.66 201.12,472.92 202.34,472.68 203.56,472.76 204.78,472.54 206.01,472.52 207.23,472.55 208.45,472.55 209.67,472.75 210.89,472.57 212.12,472.77 213.34,472.63 214.56,472.78 215.78,472.7 217.01,472.94 218.23,472.83 219.45,472.38 220.67,472.84 221.89,472.55 223.12,472.58 224.34,472.53 225.56,472.69 226.78,472.61 228.01,472.94 229.23,472.93 230.45,472.86 231.67,472.89 232.89,472.92 234.12,472.9 235.34,472.64 236.56,472.86 237.78,472.39 239.01,472.56 240.23,472.65 241.45,472.54 242.67,472.82 243.89,472.41 245.12,472.46 246.34,472.53 247.56,472.68 248.78,472.46 250.01,472.52 251.23,472.57 252.45,472.42" fill="none" stroke="#1f77b4" stroke-width="2.13" stroke-linejoin="round" stroke-linecap="square"/>
<g fill="#1f77b4"><circle cx="131.45" cy="626" r="2.67"/><circle cx="132.67" cy="626" r="2.67"/><circle cx="133.89" cy="626" r="2.67"/><circle cx="135.12" cy="617.52" r="2.67"/><circle cx="136.34" cy="472.64" r="2.67"/><circle cx="137.56" cy="472.54" r="2.67"/><circle cx="138.78" cy="472.8" r="2.67"/><circle cx="140.01" cy="472.66" r="2.67"/><circle cx="141.23" cy="472.43" r="2.67"/><circle cx="142.45" cy="472.43" r="2.67"/><circle cx="143.67" cy="472.9" r="2.67"/><circle cx="144.89" cy="472.85" r="2.67"/><circle cx="146.12" cy="472.95" r="2.67"/><circle cx="147.34" cy="472.71" r="2.67"/><circle cx="148.56" cy="472.96" r="2.67"/><circle cx="149.78" cy="472.7" r="2.67"/><circle cx="151.01" cy="472.58" r="2.67"/><circle cx="152.23" cy="472.81" r="2.67"/><circle cx="153.45" cy="472.56" r="2.67"/><circle cx="154.67" cy="472.61" r="2.67"/><circle cx="155.89" cy="472.96" r="2.67"/><circle cx="157.12" cy="472.63" r="2.67"/><circle cx="158.34" cy="472.82" r="2.67"/><circle cx="159.56" cy="472.72" r="2.67"/><circle cx="160.78" cy="472.8" r="2.67"/><circle cx="162.01" cy="472.55" r="2.67"/><circle cx="163.23" cy="472.71" r="2.67"/><circle cx="164.45" cy="472.88" r="2.67"/><circle cx="165.67" cy="472.64" r="2.67"/><circle cx="166.89" cy="472.5" r="2.67"/><circle cx="168.12" cy="472.79" r="2.67"/><circle cx="169.34" cy="472.84" r="2.67"/><circle cx="170.56" cy="472.74" r="2.67"/><circle cx="171.78" cy="472.4" r="2.67"/><circle cx="173.01" cy="473.44" r="2.67"/><circle cx="174.23" cy="472.56" r="2.67"/><circle cx="175.45" cy="472.42" r="2.67"/><circle cx="176.67" cy="472.46" r="2.67"/><circle cx="177.89" cy="472.75" r="2.67"/><circle cx="179.12" cy="472.92" r="2.67"/><circle cx="180.34" cy="472.58" r="2.67"/><circle cx="181.56" cy="472.63" r="2.67"/><circle cx="182.78" cy="472.76" r="2.67"/><circle cx="184.01" cy="472.84" r="2.67"/><circle cx="185.23" cy="472.73" r="2.67"/><circle cx="186.45" cy="472.69" r="2.67"/><circle cx="187.67" cy="472.81" r="2.67"/><circle cx="188.89" cy="472.8" r="2.67"/><circle cx="190.12" cy="472.7" r="2.67"/><circle cx="191.34" cy="473.13" r="2.67"/><circle cx="192.56" cy="472.62" r="2.67"/><circle cx="193.78" cy="472.8" r="2.67"/><circle cx="195.01" cy="472.81" r="2.67"/><circle cx="196.23" cy="472.7" r="2.67"/><circle cx="197.45" cy="472.85" r="2.67"/><circle cx="198.67" cy="472.85" r="2.67"/><circle cx="199.89" cy="472.66" r="2.67"/><circle cx="201.12" cy="472.92" r="2.67"/><circle cx="202.34" cy="472.68" r="2.67"/><circle cx="203.56" cy="472.76" r="2.67"/><circle cx="204.78" cy="472.54" r="2.67"/><circle cx="206.01" cy="472.52" r="2.67"/><circle cx="207.23" cy="472.55" r="2.67"/><circle cx="208.45" cy="472.55" r="2.67"/><circle cx="209.67" cy="472.75" r="2.67"/><circle cx="210.89" cy="472.57" r="2.67"/><circle cx="212.12" cy="472.77" r="2.67"/><circle cx="213.34" cy="472.63" r="2.67"/><circle cx="214.56" cy="472.78" r="2.67"/><circle cx="215.78" cy="472.7" r="2.67"/><circle cx="217.01" cy="472.94" r="2.67"/><circle cx="218.23" cy="472.83" r="2.67"/><circle cx="219.45" cy="472.38" r="2.67"/><circle cx="220.67" cy="472.84" r="2.67"/><circle cx="221.89" cy="472.55" r="2.67"/><circle cx="223.12" cy="472.58" r="2.67"/><circle cx="224.34" cy="472.53" r="2.67"/><circle cx="225.56" cy="472.69" r="2.67"/><circle cx="226.78" cy="472.61" r="2.67"/><circle cx="228.01" cy="472.94" r="2.67"/><circle cx="229.23" cy="472.93" r="2.67"/><circle cx="230.45" cy="472.86" r="2.67"/><circle cx="231.67" cy="472.89" r="2.67"/><circle cx="232.89" cy="472.92" r="2.67"/><circle cx="234.12" cy="472.9" r="2.67"/><circle cx="235.34" cy="472.64" r="2.67"/><circle cx="236.56" cy="472.86" r="2.67"/><circle cx="237.78" cy="472.39" r="2.67"/><circle cx="239.01" cy="472.56" r="2.67"/><circle cx="240.23" cy="472.65" r="2.67"/><circle cx="241.45" cy="472.54" r="2.67"/><circle cx="242.67" cy="472.82" r="2.67"/><circle cx="243.89" cy="472.41" r="2.67"/><circle cx="245.12" cy="472.46" r="2.67"/><circle cx="246.34" cy="472.53" r="2.67"/><circle cx="247.56" cy="472.68" r="2.67"/><circle cx="248.78" cy="472.46" r="2.67"/><circle cx="250.01" cy="472.52" r="2.67"/><circle cx="251.23" cy="472.57" r="2.67"/><circle cx="252.45" cy="472.42" r="2.67"/></g>
<polyline points="131.45,596.26 132.67,588.93 133.89,575.33 135.12,557.39 136.34,537.68 137.56,518.8 138.78,502.78 140.01,490.67 141.23,482.49 142.45,477.56 143.67,474.9 144.89,473.63 146.12,473.08 147.34,472.87 148.56,472.79 149.78,472.76 151.01,472.74 152.23,472.73 153.45,472.72 154.67,472.72 155.89,472.73 157.12,472.73 158.34,472.73 159.56,472.73 160.78,472.72 162.01,472.72 163.23,472.71 164.45,472.71 165.67,472.71 166.89,472.71 168.12,472.72 169.34,472.73 170.56,472.73 171.78,472.73 173.01,472.72 174.23,472.7 175.45,472.69 176.67,472.69 177.89,472.69 179.12,472.69 180.34,472.7 181.56,472.71 182.78,472.73 184.01,472.74 185.23,472.75 186.45,472.77 187.67,472.78 188.89,472.79 190.12,472.79 191.34,472.8 192.56,472.8 193.78,472.8 195.01,472.79 196.23,472.79 197.45,472.78 198.67,472.77 199.89,472.75 201.12,472.73 202.34,472.71 203.56,472.68 204.78,472.66 206.01,472.64 207.23,472.63 208.45,472.64 209.67,472.65 210.89,472.66 212.12,472.68 213.34,472.7 214.56,472.71 215.78,472.71 217.01,472.71 218.23,472.7 219.45,472.69 220.67,472.67 221.89,472.66 223.12,472.67 224.34,472.68 225.56,472.71 226.78,472.74 228.01,472.77 229.23,472.8 230.45,472.82 231.67,472.82 232.89,472.8 234.12,472.78 235.34,472.74 236.56,472.7 237.78,472.67 239.01,472.64 240.23,472.61 241.45,472.59 242.67,472.58 243.89,472.57 245.12,472.55 246.34,472.54 247.56,472.54 248.78,472.53 250.01,472.52 251.23,472.51 252.45,472.51" fill="none" stroke="#ff7f0e" stroke-width="2.13" stroke-dasharray="2.13 3.52" stroke-linejoin="round"/>
</g>
<rect x="125.4" y="463.8" width="133.1" height="170.1" fill="none" stroke="#1a1a1a" stroke-width="0.95"/>
<path d="M130.23 633.9v3.7M191.34 633.9v3.7M252.45 633.9v3.7M125.4 626h-3.7M125.4 595.18h-3.7M125.4 564.36h-3.7M125.4 533.54h-3.7M125.4 502.72h-3.7M125.4 471.9h-3.7" stroke="#1a1a1a" stroke-width="0.95" fill="none"/>
<g font-family="DejaVu Sans, Liberation Sans, sans-serif" font-size="11.3" fill="#111" stroke="#111" stroke-width="0.12">
<text x="130.23" y="649.3" text-anchor="middle">0</text>
<text x="191.34" y="649.3" text-anchor="middle">50</text>
<text x="252.45" y="649.3" text-anchor="middle">100</text>
<text x="117.4" y="631" text-anchor="end">0.0</text>
<text x="117.4" y="600.18" text-anchor="end">0.2</text>
<text x="117.4" y="569.36" text-anchor="end">0.4</text>
<text x="117.4" y="538.54" text-anchor="end">0.6</text>
<text x="117.4" y="507.72" text-anchor="end">0.8</text>
<text x="117.4" y="476.9" text-anchor="end">1.0</text>
</g>
<text x="191.95" y="457.8" text-anchor="middle" font-family="DejaVu Sans, Liberation Sans, sans-serif" font-size="13.0" fill="#111" stroke="#111" stroke-width="0.12">metrics/precision(B)</text>
<text transform="translate(91.6 655.4) scale(1.005 1)" font-family="Liberation Serif, Times New Roman, serif" font-size="21.9" letter-spacing="1.0" fill="#111">(g)</text>
</g>
<g id="plot-h">
<clipPath id="cliph"><rect x="310.4" y="463.8" width="133.3" height="170.1"/></clipPath>
<g clip-path="url(#cliph)">
<polyline points="316.46,625.9 317.68,624 318.91,625.9 320.13,619.73 321.36,473.71 322.58,474.03 323.8,473.55 325.03,474.34 326.25,473.87 327.48,472.63 328.7,472.56 329.92,472.32 331.15,472.48 332.37,472.87 333.6,473.44 334.82,472.93 336.04,472.38 337.27,472.56 338.49,472.94 339.72,472.98 340.94,473.28 342.16,473.33 343.39,473.46 344.61,472.42 345.84,472.74 347.06,473.37 348.28,473.03 349.51,473.49 350.73,473.29 351.96,472.63 353.18,472.73 354.4,472.95 355.63,473.21 356.85,472.73 358.08,472.34 359.3,473 360.53,473.46 361.75,473.48 362.97,473.45 364.2,472.34 365.42,472.87 366.65,472.49 367.87,473.34 369.09,473.22 370.32,472.68 371.54,472.42 372.77,473.12 373.99,473.47 375.21,472.46 376.44,473.19 377.66,472.62 378.89,473.35 380.11,472.67 381.33,472.49 382.56,472.63 383.78,473.1 385.01,472.63 386.23,473.38 387.45,473.16 388.68,473.02 389.9,472.44 391.13,473.36 392.35,472.44 393.57,472.54 394.8,472.32 396.02,473.09 397.25,473.29 398.47,473.25 399.7,472.51 400.92,472.33 402.14,477.19 403.37,472.94 404.59,473.19 405.82,472.5 407.04,472.45 408.26,473.44 409.49,473.28 410.71,472.5 411.94,472.48 413.16,473.16 414.38,473.2 415.61,473.01 416.83,472.87 418.06,473.43 419.28,472.49 420.5,472.88 421.73,472.57 422.95,473.26 424.18,472.33 425.4,472.6 426.62,473.12 427.85,472.35 429.07,472.67 430.3,472.49 431.52,473.5 432.74,473.48 433.97,472.61 435.19,473.17 436.42,472.9 437.64,473.36" fill="none" stroke="#1f77b4" stroke-width="2.13" stroke-linejoin="round" stroke-linecap="square"/>
<g fill="#1f77b4"><circle cx="316.46" cy="625.9" r="2.67"/><circle cx="317.68" cy="624" r="2.67"/><circle cx="318.91" cy="625.9" r="2.67"/><circle cx="320.13" cy="619.73" r="2.67"/><circle cx="321.36" cy="473.71" r="2.67"/><circle cx="322.58" cy="474.03" r="2.67"/><circle cx="323.8" cy="473.55" r="2.67"/><circle cx="325.03" cy="474.34" r="2.67"/><circle cx="326.25" cy="473.87" r="2.67"/><circle cx="327.48" cy="472.63" r="2.67"/><circle cx="328.7" cy="472.56" r="2.67"/><circle cx="329.92" cy="472.32" r="2.67"/><circle cx="331.15" cy="472.48" r="2.67"/><circle cx="332.37" cy="472.87" r="2.67"/><circle cx="333.6" cy="473.44" r="2.67"/><circle cx="334.82" cy="472.93" r="2.67"/><circle cx="336.04" cy="472.38" r="2.67"/><circle cx="337.27" cy="472.56" r="2.67"/><circle cx="338.49" cy="472.94" r="2.67"/><circle cx="339.72" cy="472.98" r="2.67"/><circle cx="340.94" cy="473.28" r="2.67"/><circle cx="342.16" cy="473.33" r="2.67"/><circle cx="343.39" cy="473.46" r="2.67"/><circle cx="344.61" cy="472.42" r="2.67"/><circle cx="345.84" cy="472.74" r="2.67"/><circle cx="347.06" cy="473.37" r="2.67"/><circle cx="348.28" cy="473.03" r="2.67"/><circle cx="349.51" cy="473.49" r="2.67"/><circle cx="350.73" cy="473.29" r="2.67"/><circle cx="351.96" cy="472.63" r="2.67"/><circle cx="353.18" cy="472.73" r="2.67"/><circle cx="354.4" cy="472.95" r="2.67"/><circle cx="355.63" cy="473.21" r="2.67"/><circle cx="356.85" cy="472.73" r="2.67"/><circle cx="358.08" cy="472.34" r="2.67"/><circle cx="359.3" cy="473" r="2.67"/><circle cx="360.53" cy="473.46" r="2.67"/><circle cx="361.75" cy="473.48" r="2.67"/><circle cx="362.97" cy="473.45" r="2.67"/><circle cx="364.2" cy="472.34" r="2.67"/><circle cx="365.42" cy="472.87" r="2.67"/><circle cx="366.65" cy="472.49" r="2.67"/><circle cx="367.87" cy="473.34" r="2.67"/><circle cx="369.09" cy="473.22" r="2.67"/><circle cx="370.32" cy="472.68" r="2.67"/><circle cx="371.54" cy="472.42" r="2.67"/><circle cx="372.77" cy="473.12" r="2.67"/><circle cx="373.99" cy="473.47" r="2.67"/><circle cx="375.21" cy="472.46" r="2.67"/><circle cx="376.44" cy="473.19" r="2.67"/><circle cx="377.66" cy="472.62" r="2.67"/><circle cx="378.89" cy="473.35" r="2.67"/><circle cx="380.11" cy="472.67" r="2.67"/><circle cx="381.33" cy="472.49" r="2.67"/><circle cx="382.56" cy="472.63" r="2.67"/><circle cx="383.78" cy="473.1" r="2.67"/><circle cx="385.01" cy="472.63" r="2.67"/><circle cx="386.23" cy="473.38" r="2.67"/><circle cx="387.45" cy="473.16" r="2.67"/><circle cx="388.68" cy="473.02" r="2.67"/><circle cx="389.9" cy="472.44" r="2.67"/><circle cx="391.13" cy="473.36" r="2.67"/><circle cx="392.35" cy="472.44" r="2.67"/><circle cx="393.57" cy="472.54" r="2.67"/><circle cx="394.8" cy="472.32" r="2.67"/><circle cx="396.02" cy="473.09" r="2.67"/><circle cx="397.25" cy="473.29" r="2.67"/><circle cx="398.47" cy="473.25" r="2.67"/><circle cx="399.7" cy="472.51" r="2.67"/><circle cx="400.92" cy="472.33" r="2.67"/><circle cx="402.14" cy="477.19" r="2.67"/><circle cx="403.37" cy="472.94" r="2.67"/><circle cx="404.59" cy="473.19" r="2.67"/><circle cx="405.82" cy="472.5" r="2.67"/><circle cx="407.04" cy="472.45" r="2.67"/><circle cx="408.26" cy="473.44" r="2.67"/><circle cx="409.49" cy="473.28" r="2.67"/><circle cx="410.71" cy="472.5" r="2.67"/><circle cx="411.94" cy="472.48" r="2.67"/><circle cx="413.16" cy="473.16" r="2.67"/><circle cx="414.38" cy="473.2" r="2.67"/><circle cx="415.61" cy="473.01" r="2.67"/><circle cx="416.83" cy="472.87" r="2.67"/><circle cx="418.06" cy="473.43" r="2.67"/><circle cx="419.28" cy="472.49" r="2.67"/><circle cx="420.5" cy="472.88" r="2.67"/><circle cx="421.73" cy="472.57" r="2.67"/><circle cx="422.95" cy="473.26" r="2.67"/><circle cx="424.18" cy="472.33" r="2.67"/><circle cx="425.4" cy="472.6" r="2.67"/><circle cx="426.62" cy="473.12" r="2.67"/><circle cx="427.85" cy="472.35" r="2.67"/><circle cx="429.07" cy="472.67" r="2.67"/><circle cx="430.3" cy="472.49" r="2.67"/><circle cx="431.52" cy="473.5" r="2.67"/><circle cx="432.74" cy="473.48" r="2.67"/><circle cx="433.97" cy="472.61" r="2.67"/><circle cx="435.19" cy="473.17" r="2.67"/><circle cx="436.42" cy="472.9" r="2.67"/><circle cx="437.64" cy="473.36" r="2.67"/></g>
<polyline points="316.46,596.26 317.68,589.05 318.91,575.62 320.13,557.9 321.36,538.37 322.58,519.61 323.8,503.62 325.03,491.45 326.25,483.14 327.48,478.04 328.7,475.23 329.92,473.82 331.15,473.19 332.37,472.93 333.6,472.85 334.82,472.84 336.04,472.85 337.27,472.89 338.49,472.93 339.72,472.97 340.94,473.01 342.16,473.03 343.39,473.05 344.61,473.06 345.84,473.06 347.06,473.07 348.28,473.06 349.51,473.05 350.73,473.03 351.96,473 353.18,472.96 354.4,472.94 355.63,472.93 356.85,472.94 358.08,472.96 359.3,472.99 360.53,473.01 361.75,473.02 362.97,473 364.2,472.98 365.42,472.96 366.65,472.93 367.87,472.92 369.09,472.91 370.32,472.91 371.54,472.92 372.77,472.92 373.99,472.92 375.21,472.91 376.44,472.9 377.66,472.89 378.89,472.87 380.11,472.86 381.33,472.85 382.56,472.86 383.78,472.88 385.01,472.9 386.23,472.91 387.45,472.91 388.68,472.9 389.9,472.87 391.13,472.84 392.35,472.83 393.57,472.84 394.8,472.88 396.02,472.96 397.25,473.06 398.47,473.18 399.7,473.29 400.92,473.37 402.14,473.4 403.37,473.37 404.59,473.3 405.82,473.2 407.04,473.11 408.26,473.03 409.49,472.97 410.71,472.95 411.94,472.94 413.16,472.94 414.38,472.95 415.61,472.95 416.83,472.94 418.06,472.92 419.28,472.88 420.5,472.85 421.73,472.81 422.95,472.78 424.18,472.76 425.4,472.75 426.62,472.76 427.85,472.79 429.07,472.83 430.3,472.88 431.52,472.94 432.74,472.99 433.97,473.03 435.19,473.07 436.42,473.08 437.64,473.09" fill="none" stroke="#ff7f0e" stroke-width="2.13" stroke-dasharray="2.13 3.52" stroke-linejoin="round"/>
</g>
<rect x="310.4" y="463.8" width="133.3" height="170.1" fill="none" stroke="#1a1a1a" stroke-width="0.95"/>
<path d="M315.24 633.9v3.7M376.44 633.9v3.7M437.64 633.9v3.7M310.4 625.9h-3.7M310.4 594.26h-3.7M310.4 562.62h-3.7M310.4 530.98h-3.7M310.4 499.34h-3.7M310.4 467.7h-3.7" stroke="#1a1a1a" stroke-width="0.95" fill="none"/>
<g font-family="DejaVu Sans, Liberation Sans, sans-serif" font-size="11.3" fill="#111" stroke="#111" stroke-width="0.12">
<text x="315.24" y="649.3" text-anchor="middle">0</text>
<text x="376.44" y="649.3" text-anchor="middle">50</text>
<text x="437.64" y="649.3" text-anchor="middle">100</text>
<text x="302.4" y="630.9" text-anchor="end">0.0</text>
<text x="302.4" y="599.26" text-anchor="end">0.2</text>
<text x="302.4" y="567.62" text-anchor="end">0.4</text>
<text x="302.4" y="535.98" text-anchor="end">0.6</text>
<text x="302.4" y="504.34" text-anchor="end">0.8</text>
<text x="302.4" y="472.7" text-anchor="end">1.0</text>
</g>
<text x="377.05" y="457.8" text-anchor="middle" font-family="DejaVu Sans, Liberation Sans, sans-serif" font-size="13.0" fill="#111" stroke="#111" stroke-width="0.12">metrics/recall(B)</text>
<text transform="translate(276.6 655.4) scale(1.005 1)" font-family="Liberation Serif, Times New Roman, serif" font-size="21.9" letter-spacing="1.0" fill="#111">(h)</text>
</g>
<g id="plot-i">
<clipPath id="clipi"><rect x="125.4" y="679.6" width="133.1" height="170.5"/></clipPath>
<g clip-path="url(#clipi)">
<polyline points="131.45,842.1 132.67,842.1 133.89,842.1 135.12,837.43 136.34,690.66 137.56,689.26 138.78,690.66 140.01,690.19 141.23,689.73 142.45,689.42 143.67,689.26 144.89,688.95 146.12,688.03 147.34,688.32 148.56,688.12 149.78,688.59 151.01,688.34 152.23,688.6 153.45,688.09 154.67,688.36 155.89,688.59 157.12,688.59 158.34,688.3 159.56,688.59 160.78,688.52 162.01,688.37 163.23,688.33 164.45,688.27 165.67,688.25 166.89,688.4 168.12,688.25 169.34,688.54 170.56,688.47 171.78,688.14 173.01,688.54 174.23,688.5 175.45,688.49 176.67,688.34 177.89,688.64 179.12,688.62 180.34,688.35 181.56,688.54 182.78,688.21 184.01,688.14 185.23,688.28 186.45,688.2 187.67,688.39 188.89,688.61 190.12,688.36 191.34,688.41 192.56,688.26 193.78,688.55 195.01,688.5 196.23,688.13 197.45,688.47 198.67,688.38 199.89,688.05 201.12,688.47 202.34,688.55 203.56,688.2 204.78,688.28 206.01,688.26 207.23,688.61 208.45,688.38 209.67,688.63 210.89,688.48 212.12,688.2 213.34,688.6 214.56,688.45 215.78,688.02 217.01,690.97 218.23,688.34 219.45,688.18 220.67,688.24 221.89,688.35 223.12,688.1 224.34,688.53 225.56,688.12 226.78,688.61 228.01,688.1 229.23,688.22 230.45,688.36 231.67,688.22 232.89,688.35 234.12,688.15 235.34,688.57 236.56,688.32 237.78,688.09 239.01,688.06 240.23,688.5 241.45,688.48 242.67,688.07 243.89,688.42 245.12,688.6 246.34,688.19 247.56,688.38 248.78,688.18 250.01,688.34 251.23,688.33 252.45,688.38" fill="none" stroke="#1f77b4" stroke-width="2.13" stroke-linejoin="round" stroke-linecap="square"/>
<g fill="#1f77b4"><circle cx="131.45" cy="842.1" r="2.67"/><circle cx="132.67" cy="842.1" r="2.67"/><circle cx="133.89" cy="842.1" r="2.67"/><circle cx="135.12" cy="837.43" r="2.67"/><circle cx="136.34" cy="690.66" r="2.67"/><circle cx="137.56" cy="689.26" r="2.67"/><circle cx="138.78" cy="690.66" r="2.67"/><circle cx="140.01" cy="690.19" r="2.67"/><circle cx="141.23" cy="689.73" r="2.67"/><circle cx="142.45" cy="689.42" r="2.67"/><circle cx="143.67" cy="689.26" r="2.67"/><circle cx="144.89" cy="688.95" r="2.67"/><circle cx="146.12" cy="688.03" r="2.67"/><circle cx="147.34" cy="688.32" r="2.67"/><circle cx="148.56" cy="688.12" r="2.67"/><circle cx="149.78" cy="688.59" r="2.67"/><circle cx="151.01" cy="688.34" r="2.67"/><circle cx="152.23" cy="688.6" r="2.67"/><circle cx="153.45" cy="688.09" r="2.67"/><circle cx="154.67" cy="688.36" r="2.67"/><circle cx="155.89" cy="688.59" r="2.67"/><circle cx="157.12" cy="688.59" r="2.67"/><circle cx="158.34" cy="688.3" r="2.67"/><circle cx="159.56" cy="688.59" r="2.67"/><circle cx="160.78" cy="688.52" r="2.67"/><circle cx="162.01" cy="688.37" r="2.67"/><circle cx="163.23" cy="688.33" r="2.67"/><circle cx="164.45" cy="688.27" r="2.67"/><circle cx="165.67" cy="688.25" r="2.67"/><circle cx="166.89" cy="688.4" r="2.67"/><circle cx="168.12" cy="688.25" r="2.67"/><circle cx="169.34" cy="688.54" r="2.67"/><circle cx="170.56" cy="688.47" r="2.67"/><circle cx="171.78" cy="688.14" r="2.67"/><circle cx="173.01" cy="688.54" r="2.67"/><circle cx="174.23" cy="688.5" r="2.67"/><circle cx="175.45" cy="688.49" r="2.67"/><circle cx="176.67" cy="688.34" r="2.67"/><circle cx="177.89" cy="688.64" r="2.67"/><circle cx="179.12" cy="688.62" r="2.67"/><circle cx="180.34" cy="688.35" r="2.67"/><circle cx="181.56" cy="688.54" r="2.67"/><circle cx="182.78" cy="688.21" r="2.67"/><circle cx="184.01" cy="688.14" r="2.67"/><circle cx="185.23" cy="688.28" r="2.67"/><circle cx="186.45" cy="688.2" r="2.67"/><circle cx="187.67" cy="688.39" r="2.67"/><circle cx="188.89" cy="688.61" r="2.67"/><circle cx="190.12" cy="688.36" r="2.67"/><circle cx="191.34" cy="688.41" r="2.67"/><circle cx="192.56" cy="688.26" r="2.67"/><circle cx="193.78" cy="688.55" r="2.67"/><circle cx="195.01" cy="688.5" r="2.67"/><circle cx="196.23" cy="688.13" r="2.67"/><circle cx="197.45" cy="688.47" r="2.67"/><circle cx="198.67" cy="688.38" r="2.67"/><circle cx="199.89" cy="688.05" r="2.67"/><circle cx="201.12" cy="688.47" r="2.67"/><circle cx="202.34" cy="688.55" r="2.67"/><circle cx="203.56" cy="688.2" r="2.67"/><circle cx="204.78" cy="688.28" r="2.67"/><circle cx="206.01" cy="688.26" r="2.67"/><circle cx="207.23" cy="688.61" r="2.67"/><circle cx="208.45" cy="688.38" r="2.67"/><circle cx="209.67" cy="688.63" r="2.67"/><circle cx="210.89" cy="688.48" r="2.67"/><circle cx="212.12" cy="688.2" r="2.67"/><circle cx="213.34" cy="688.6" r="2.67"/><circle cx="214.56" cy="688.45" r="2.67"/><circle cx="215.78" cy="688.02" r="2.67"/><circle cx="217.01" cy="690.97" r="2.67"/><circle cx="218.23" cy="688.34" r="2.67"/><circle cx="219.45" cy="688.18" r="2.67"/><circle cx="220.67" cy="688.24" r="2.67"/><circle cx="221.89" cy="688.35" r="2.67"/><circle cx="223.12" cy="688.1" r="2.67"/><circle cx="224.34" cy="688.53" r="2.67"/><circle cx="225.56" cy="688.12" r="2.67"/><circle cx="226.78" cy="688.61" r="2.67"/><circle cx="228.01" cy="688.1" r="2.67"/><circle cx="229.23" cy="688.22" r="2.67"/><circle cx="230.45" cy="688.36" r="2.67"/><circle cx="231.67" cy="688.22" r="2.67"/><circle cx="232.89" cy="688.35" r="2.67"/><circle cx="234.12" cy="688.15" r="2.67"/><circle cx="235.34" cy="688.57" r="2.67"/><circle cx="236.56" cy="688.32" r="2.67"/><circle cx="237.78" cy="688.09" r="2.67"/><circle cx="239.01" cy="688.06" r="2.67"/><circle cx="240.23" cy="688.5" r="2.67"/><circle cx="241.45" cy="688.48" r="2.67"/><circle cx="242.67" cy="688.07" r="2.67"/><circle cx="243.89" cy="688.42" r="2.67"/><circle cx="245.12" cy="688.6" r="2.67"/><circle cx="246.34" cy="688.19" r="2.67"/><circle cx="247.56" cy="688.38" r="2.67"/><circle cx="248.78" cy="688.18" r="2.67"/><circle cx="250.01" cy="688.34" r="2.67"/><circle cx="251.23" cy="688.33" r="2.67"/><circle cx="252.45" cy="688.38" r="2.67"/></g>
<polyline points="131.45,813.14 132.67,805.9 133.89,792.43 135.12,774.63 136.34,755.01 137.56,736.15 138.78,720.07 140.01,707.82 141.23,699.45 142.45,694.27 143.67,691.36 144.89,689.84 146.12,689.09 147.34,688.72 148.56,688.54 149.78,688.45 151.01,688.42 152.23,688.41 153.45,688.41 154.67,688.42 155.89,688.43 157.12,688.44 158.34,688.44 159.56,688.43 160.78,688.42 162.01,688.4 163.23,688.38 164.45,688.37 165.67,688.36 166.89,688.36 168.12,688.37 169.34,688.38 170.56,688.4 171.78,688.41 173.01,688.43 174.23,688.44 175.45,688.45 176.67,688.46 177.89,688.45 179.12,688.44 180.34,688.41 181.56,688.39 182.78,688.36 184.01,688.35 185.23,688.34 186.45,688.34 187.67,688.36 188.89,688.37 190.12,688.38 191.34,688.39 192.56,688.39 193.78,688.38 195.01,688.38 196.23,688.37 197.45,688.36 198.67,688.35 199.89,688.35 201.12,688.35 202.34,688.35 203.56,688.36 204.78,688.38 206.01,688.4 207.23,688.42 208.45,688.44 209.67,688.47 210.89,688.5 212.12,688.54 213.34,688.59 214.56,688.63 215.78,688.66 217.01,688.66 218.23,688.62 219.45,688.56 220.67,688.49 221.89,688.43 223.12,688.37 224.34,688.34 225.56,688.32 226.78,688.3 228.01,688.3 229.23,688.29 230.45,688.29 231.67,688.29 232.89,688.29 234.12,688.29 235.34,688.29 236.56,688.29 237.78,688.29 239.01,688.3 240.23,688.31 241.45,688.32 242.67,688.33 243.89,688.33 245.12,688.34 246.34,688.33 247.56,688.33 248.78,688.33 250.01,688.33 251.23,688.33 252.45,688.33" fill="none" stroke="#ff7f0e" stroke-width="2.13" stroke-dasharray="2.13 3.52" stroke-linejoin="round"/>
</g>
<rect x="125.4" y="679.6" width="133.1" height="170.5" fill="none" stroke="#1a1a1a" stroke-width="0.95"/>
<path d="M130.23 850.1v3.7M191.34 850.1v3.7M252.45 850.1v3.7M125.4 842.1h-3.7M125.4 810.94h-3.7M125.4 779.78h-3.7M125.4 748.62h-3.7M125.4 717.46h-3.7M125.4 686.3h-3.7" stroke="#1a1a1a" stroke-width="0.95" fill="none"/>
<g font-family="DejaVu Sans, Liberation Sans, sans-serif" font-size="11.3" fill="#111" stroke="#111" stroke-width="0.12">
<text x="130.23" y="865.5" text-anchor="middle">0</text>
<text x="191.34" y="865.5" text-anchor="middle">50</text>
<text x="252.45" y="865.5" text-anchor="middle">100</text>
<text x="117.4" y="847.1" text-anchor="end">0.0</text>
<text x="117.4" y="815.94" text-anchor="end">0.2</text>
<text x="117.4" y="784.78" text-anchor="end">0.4</text>
<text x="117.4" y="753.62" text-anchor="end">0.6</text>
<text x="117.4" y="722.46" text-anchor="end">0.8</text>
<text x="117.4" y="691.3" text-anchor="end">1.0</text>
</g>
<text x="191.95" y="673.6" text-anchor="middle" font-family="DejaVu Sans, Liberation Sans, sans-serif" font-size="13.0" fill="#111" stroke="#111" stroke-width="0.12">metrics/mAP50(B)</text>
<text transform="translate(91.4 873) scale(1.005 1)" font-family="Liberation Serif, Times New Roman, serif" font-size="21.9" letter-spacing="1.0" fill="#111">(i)</text>
</g>
<g id="plot-j">
<clipPath id="clipj"><rect x="310.4" y="679.6" width="133.3" height="170.5"/></clipPath>
<g clip-path="url(#clipj)">
<polyline points="316.46,842.6 317.68,842.6 318.91,842.6 320.13,840.23 321.36,707.58 322.58,702.68 323.8,701.42 325.03,700.69 326.25,700.31 327.48,698.41 328.7,696.99 329.92,697.94 331.15,696.99 332.37,697.46 333.6,695.73 334.82,694.78 336.04,692.8 337.27,694.3 338.49,694.52 339.72,693.2 340.94,692.4 342.16,691.14 343.39,692.09 344.61,691.3 345.84,691.61 347.06,690.82 348.28,690.35 349.51,689.56 350.73,689.08 351.96,688.85 353.18,688.93 354.4,689.24 355.63,689.08 356.85,689.56 358.08,690.82 359.3,692.04 360.53,690.03 361.75,688.93 362.97,688.36 364.2,688.45 365.42,688.29 366.65,688.14 367.87,687.98 369.09,687.98 370.32,687.82 371.54,687.98 372.77,687.82 373.99,688.29 375.21,688.93 376.44,689.24 377.66,688.29 378.89,687.82 380.11,687.79 381.33,687.41 382.56,687.56 383.78,687.48 385.01,687.41 386.23,687.82 387.45,687.4 388.68,687.43 389.9,687.66 391.13,687.62 392.35,687.91 393.57,687.5 394.8,687.87 396.02,687.64 397.25,687.9 398.47,687.93 399.7,687.59 400.92,687.67 402.14,689.56 403.37,688.93 404.59,687.36 405.82,687.93 407.04,687.58 408.26,687.61 409.49,687.57 410.71,687.63 411.94,687.63 413.16,687.43 414.38,687.69 415.61,687.64 416.83,687.54 418.06,687.92 419.28,687.71 420.5,687.91 421.73,687.89 422.95,687.98 424.18,687.85 425.4,687.84 426.62,687.65 427.85,687.62 429.07,687.46 430.3,687.67 431.52,687.41 432.74,687.73 433.97,687.51 435.19,687.63 436.42,687.58 437.64,687.81" fill="none" stroke="#1f77b4" stroke-width="2.13" stroke-linejoin="round" stroke-linecap="square"/>
<g fill="#1f77b4"><circle cx="316.46" cy="842.6" r="2.67"/><circle cx="317.68" cy="842.6" r="2.67"/><circle cx="318.91" cy="842.6" r="2.67"/><circle cx="320.13" cy="840.23" r="2.67"/><circle cx="321.36" cy="707.58" r="2.67"/><circle cx="322.58" cy="702.68" r="2.67"/><circle cx="323.8" cy="701.42" r="2.67"/><circle cx="325.03" cy="700.69" r="2.67"/><circle cx="326.25" cy="700.31" r="2.67"/><circle cx="327.48" cy="698.41" r="2.67"/><circle cx="328.7" cy="696.99" r="2.67"/><circle cx="329.92" cy="697.94" r="2.67"/><circle cx="331.15" cy="696.99" r="2.67"/><circle cx="332.37" cy="697.46" r="2.67"/><circle cx="333.6" cy="695.73" r="2.67"/><circle cx="334.82" cy="694.78" r="2.67"/><circle cx="336.04" cy="692.8" r="2.67"/><circle cx="337.27" cy="694.3" r="2.67"/><circle cx="338.49" cy="694.52" r="2.67"/><circle cx="339.72" cy="693.2" r="2.67"/><circle cx="340.94" cy="692.4" r="2.67"/><circle cx="342.16" cy="691.14" r="2.67"/><circle cx="343.39" cy="692.09" r="2.67"/><circle cx="344.61" cy="691.3" r="2.67"/><circle cx="345.84" cy="691.61" r="2.67"/><circle cx="347.06" cy="690.82" r="2.67"/><circle cx="348.28" cy="690.35" r="2.67"/><circle cx="349.51" cy="689.56" r="2.67"/><circle cx="350.73" cy="689.08" r="2.67"/><circle cx="351.96" cy="688.85" r="2.67"/><circle cx="353.18" cy="688.93" r="2.67"/><circle cx="354.4" cy="689.24" r="2.67"/><circle cx="355.63" cy="689.08" r="2.67"/><circle cx="356.85" cy="689.56" r="2.67"/><circle cx="358.08" cy="690.82" r="2.67"/><circle cx="359.3" cy="692.04" r="2.67"/><circle cx="360.53" cy="690.03" r="2.67"/><circle cx="361.75" cy="688.93" r="2.67"/><circle cx="362.97" cy="688.36" r="2.67"/><circle cx="364.2" cy="688.45" r="2.67"/><circle cx="365.42" cy="688.29" r="2.67"/><circle cx="366.65" cy="688.14" r="2.67"/><circle cx="367.87" cy="687.98" r="2.67"/><circle cx="369.09" cy="687.98" r="2.67"/><circle cx="370.32" cy="687.82" r="2.67"/><circle cx="371.54" cy="687.98" r="2.67"/><circle cx="372.77" cy="687.82" r="2.67"/><circle cx="373.99" cy="688.29" r="2.67"/><circle cx="375.21" cy="688.93" r="2.67"/><circle cx="376.44" cy="689.24" r="2.67"/><circle cx="377.66" cy="688.29" r="2.67"/><circle cx="378.89" cy="687.82" r="2.67"/><circle cx="380.11" cy="687.79" r="2.67"/><circle cx="381.33" cy="687.41" r="2.67"/><circle cx="382.56" cy="687.56" r="2.67"/><circle cx="383.78" cy="687.48" r="2.67"/><circle cx="385.01" cy="687.41" r="2.67"/><circle cx="386.23" cy="687.82" r="2.67"/><circle cx="387.45" cy="687.4" r="2.67"/><circle cx="388.68" cy="687.43" r="2.67"/><circle cx="389.9" cy="687.66" r="2.67"/><circle cx="391.13" cy="687.62" r="2.67"/><circle cx="392.35" cy="687.91" r="2.67"/><circle cx="393.57" cy="687.5" r="2.67"/><circle cx="394.8" cy="687.87" r="2.67"/><circle cx="396.02" cy="687.64" r="2.67"/><circle cx="397.25" cy="687.9" r="2.67"/><circle cx="398.47" cy="687.93" r="2.67"/><circle cx="399.7" cy="687.59" r="2.67"/><circle cx="400.92" cy="687.67" r="2.67"/><circle cx="402.14" cy="689.56" r="2.67"/><circle cx="403.37" cy="688.93" r="2.67"/><circle cx="404.59" cy="687.36" r="2.67"/><circle cx="405.82" cy="687.93" r="2.67"/><circle cx="407.04" cy="687.58" r="2.67"/><circle cx="408.26" cy="687.61" r="2.67"/><circle cx="409.49" cy="687.57" r="2.67"/><circle cx="410.71" cy="687.63" r="2.67"/><circle cx="411.94" cy="687.63" r="2.67"/><circle cx="413.16" cy="687.43" r="2.67"/><circle cx="414.38" cy="687.69" r="2.67"/><circle cx="415.61" cy="687.64" r="2.67"/><circle cx="416.83" cy="687.54" r="2.67"/><circle cx="418.06" cy="687.92" r="2.67"/><circle cx="419.28" cy="687.71" r="2.67"/><circle cx="420.5" cy="687.91" r="2.67"/><circle cx="421.73" cy="687.89" r="2.67"/><circle cx="422.95" cy="687.98" r="2.67"/><circle cx="424.18" cy="687.85" r="2.67"/><circle cx="425.4" cy="687.84" r="2.67"/><circle cx="426.62" cy="687.65" r="2.67"/><circle cx="427.85" cy="687.62" r="2.67"/><circle cx="429.07" cy="687.46" r="2.67"/><circle cx="430.3" cy="687.67" r="2.67"/><circle cx="431.52" cy="687.41" r="2.67"/><circle cx="432.74" cy="687.73" r="2.67"/><circle cx="433.97" cy="687.51" r="2.67"/><circle cx="435.19" cy="687.63" r="2.67"/><circle cx="436.42" cy="687.58" r="2.67"/><circle cx="437.64" cy="687.81" r="2.67"/></g>
<polyline points="316.46,816.54 317.68,809.88 318.91,797.46 320.13,780.96 321.36,762.64 322.58,744.84 323.8,729.46 325.03,717.52 326.25,709.13 327.48,703.73 328.7,700.46 329.92,698.54 331.15,697.34 332.37,696.48 333.6,695.79 334.82,695.17 336.04,694.6 337.27,694.07 338.49,693.57 339.72,693.1 340.94,692.66 342.16,692.23 343.39,691.83 344.61,691.44 345.84,691.06 347.06,690.69 348.28,690.33 349.51,690.02 350.73,689.77 351.96,689.61 353.18,689.54 354.4,689.57 355.63,689.64 356.85,689.72 358.08,689.76 359.3,689.7 360.53,689.55 361.75,689.32 362.97,689.04 364.2,688.77 365.42,688.53 366.65,688.35 367.87,688.22 369.09,688.16 370.32,688.14 371.54,688.16 372.77,688.2 373.99,688.24 375.21,688.26 376.44,688.23 377.66,688.15 378.89,688.04 380.11,687.92 381.33,687.8 382.56,687.7 383.78,687.63 385.01,687.59 386.23,687.58 387.45,687.58 388.68,687.6 389.9,687.62 391.13,687.65 392.35,687.68 393.57,687.72 394.8,687.76 396.02,687.82 397.25,687.88 398.47,687.95 399.7,688.01 400.92,688.06 402.14,688.08 403.37,688.06 404.59,688 405.82,687.92 407.04,687.83 408.26,687.75 409.49,687.69 410.71,687.65 411.94,687.64 413.16,687.64 414.38,687.65 415.61,687.68 416.83,687.71 418.06,687.74 419.28,687.77 420.5,687.8 421.73,687.81 422.95,687.8 424.18,687.78 425.4,687.75 426.62,687.71 427.85,687.67 429.07,687.64 430.3,687.62 431.52,687.61 432.74,687.61 433.97,687.62 435.19,687.63 436.42,687.64 437.64,687.64" fill="none" stroke="#ff7f0e" stroke-width="2.13" stroke-dasharray="2.13 3.52" stroke-linejoin="round"/>
</g>
<rect x="310.4" y="679.6" width="133.3" height="170.5" fill="none" stroke="#1a1a1a" stroke-width="0.95"/>
<path d="M315.24 850.1v3.7M376.44 850.1v3.7M437.64 850.1v3.7M310.4 842.6h-3.7M310.4 810.98h-3.7M310.4 779.36h-3.7M310.4 747.74h-3.7M310.4 716.12h-3.7M310.4 684.5h-3.7" stroke="#1a1a1a" stroke-width="0.95" fill="none"/>
<g font-family="DejaVu Sans, Liberation Sans, sans-serif" font-size="11.3" fill="#111" stroke="#111" stroke-width="0.12">
<text x="315.24" y="865.5" text-anchor="middle">0</text>
<text x="376.44" y="865.5" text-anchor="middle">50</text>
<text x="437.64" y="865.5" text-anchor="middle">100</text>
<text x="302.4" y="847.6" text-anchor="end">0.0</text>
<text x="302.4" y="815.98" text-anchor="end">0.2</text>
<text x="302.4" y="784.36" text-anchor="end">0.4</text>
<text x="302.4" y="752.74" text-anchor="end">0.6</text>
<text x="302.4" y="721.12" text-anchor="end">0.8</text>
<text x="302.4" y="689.5" text-anchor="end">1.0</text>
</g>
<text x="377.05" y="673.6" text-anchor="middle" font-family="DejaVu Sans, Liberation Sans, sans-serif" font-size="13.0" fill="#111" stroke="#111" stroke-width="0.12">metrics/mAP50-95(B)</text>
<text transform="translate(273.9 873.2) scale(1.005 1)" font-family="Liberation Serif, Times New Roman, serif" font-size="21.9" letter-spacing="2.6" fill="#111">(j)</text>
</g>
</svg>
</body></html>
